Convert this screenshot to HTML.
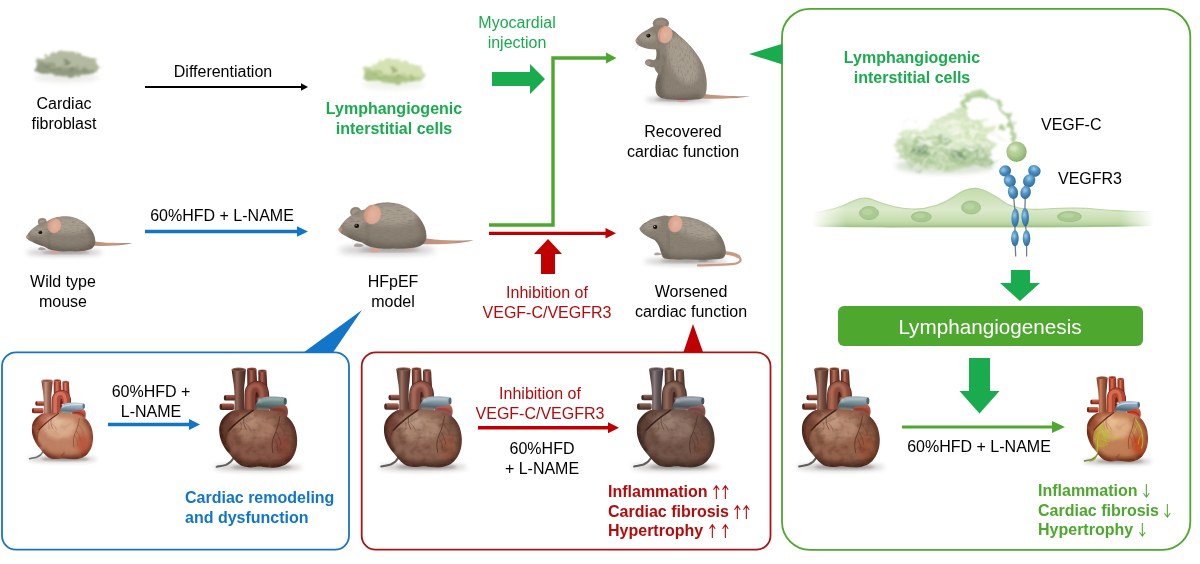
<!DOCTYPE html>
<html><head><meta charset="utf-8">
<style>
html,body{margin:0;padding:0;background:#fff;}
body{width:1200px;height:564px;position:relative;overflow:hidden;font-family:"Liberation Sans",sans-serif;}
.t{will-change:transform;position:absolute;font-size:16px;line-height:19.5px;text-align:center;color:#000;white-space:nowrap;transform:translateX(-50%);}
.l{transform:none;text-align:left;}
.g{color:#1aab4e;}
.g2{color:#4ea72e;}
.r{color:#b30c0c;}
.b{color:#1275c8;}
.bd{font-weight:bold;}
.ar{font-weight:normal;font-size:19px;line-height:10px;}
#lines,#art{position:absolute;left:0;top:0;}
.ua{display:inline-block;width:8.7px;height:14px;vertical-align:-2.4px;overflow:visible;}
</style></head><body>
<svg id="lines" width="1200" height="564" viewBox="0 0 1200 564">
<!-- boxes -->
<rect x="2" y="352.300" width="347" height="197.400" rx="14" fill="none" stroke="#1a74bf" stroke-width="1.8"/>
<rect x="361.700" y="352.300" width="408.800" height="197.400" rx="14" fill="none" stroke="#a81414" stroke-width="1.8"/>
<rect x="782" y="8.800" width="408.300" height="541" rx="28" fill="none" stroke="#4ea72e" stroke-width="1.8"/>
<!-- pointers -->
<polygon points="303.500,352.500 362,310 333,352.500" fill="#1275c8"/>
<polygon points="683.5,352 693,324 703,352" fill="#c00000"/>
<polygon points="782.5,43.800 749,54 782.5,64.500" fill="#1aab4e"/>
<!-- thin arrows -->
<line x1="145" y1="87" x2="302" y2="87" stroke="#000" stroke-width="1.8"/>
<polygon points="301,83.300 308,87 301,90.700" fill="#000"/>
<line x1="145" y1="231.500" x2="298" y2="231.500" stroke="#1275c8" stroke-width="3.4"/>
<polygon points="297,226.200 308,231.500 297,236.800" fill="#1275c8"/>
<polyline points="489,225 553,225 553,58 607,58" fill="none" stroke="#4ea72e" stroke-width="3.4"/>
<polygon points="606,52.600 616.500,58 606,63.400" fill="#4ea72e"/>
<line x1="489" y1="233.300" x2="607" y2="233.300" stroke="#c00000" stroke-width="3.2"/>
<polygon points="605.500,228 616,233.300 605.500,238.600" fill="#c00000"/>
<line x1="108" y1="424.500" x2="190" y2="424.500" stroke="#1275c8" stroke-width="3.4"/>
<polygon points="189,419 200,424.500 189,430" fill="#1275c8"/>
<line x1="478" y1="427.700" x2="609" y2="427.700" stroke="#c00000" stroke-width="3.5"/>
<polygon points="608,422.200 619,427.700 608,433.200" fill="#c00000"/>
<line x1="902" y1="427" x2="1054" y2="427" stroke="#4ea72e" stroke-width="3.2"/>
<polygon points="1052,421 1065,427 1052,433" fill="#4ea72e"/>
<!-- fat arrows -->
<polygon points="492,72 530,72 530,64 545,79 530,94 530,86 492,86" fill="#1aab4e"/>
<polygon points="541,274 541,254 534,254 548,239 562,254 555,254 555,274" fill="#c00000"/>
<polygon points="1011,270 1030,270 1030,283 1040,283 1020,301 1000,283 1011,283" fill="#1aab4e"/>
<polygon points="969,358 990,358 990,391 999.500,391 979.500,413.500 959.500,391 969,391" fill="#1aab4e"/>
<!-- banner -->
<rect x="838" y="306" width="305" height="40" rx="6" fill="#4ea72e"/>
</svg>

<svg id="art" width="1200" height="564" viewBox="0 0 1200 564"><defs>
<filter id="hearttex" x="0" y="0" width="100%" height="100%">
 <feTurbulence type="fractalNoise" baseFrequency="0.12 0.16" numOctaves="3" seed="2" result="n"/>
 <feColorMatrix in="n" type="matrix" values="0 0 0 0 0.12  0 0 0 0 0.05  0 0 0 0 0.03  0 0 0 1.5 -0.62" result="nn"/>
 <feComposite in="nn" in2="SourceGraphic" operator="in" result="tex"/>
 <feMerge><feMergeNode in="SourceGraphic"/><feMergeNode in="tex"/></feMerge>
</filter>
<filter id="hearttexL" x="0" y="0" width="100%" height="100%">
 <feTurbulence type="fractalNoise" baseFrequency="0.10 0.14" numOctaves="2" seed="6" result="n"/>
 <feColorMatrix in="n" type="matrix" values="0 0 0 0 0.45  0 0 0 0 0.15  0 0 0 0 0.08  0 0 0 0.9 -0.42" result="nn"/>
 <feComposite in="nn" in2="SourceGraphic" operator="in" result="tex"/>
 <feMerge><feMergeNode in="SourceGraphic"/><feMergeNode in="tex"/></feMerge>
</filter>
<filter id="blur1" x="-20%" y="-20%" width="140%" height="140%"><feGaussianBlur stdDeviation="0.8"/></filter>
<filter id="blur2" x="-30%" y="-30%" width="160%" height="160%"><feGaussianBlur stdDeviation="1.6"/></filter>
<filter id="blur3" x="-40%" y="-60%" width="180%" height="220%"><feGaussianBlur stdDeviation="2.6"/></filter>

<clipPath id="hc1"><path d="M33,50.4 C26,53.500 20.6,59 19.4,66.500 C18.200,76 22.200,86 29,93.500 C32.500,97.500 35.500,102 39.500,104.600 C43,107.400 50,108 56,106.800 C60,106 64,107.200 68,107.600 C76,108.200 84,106.800 89.500,101.500 C94.800,96 97.600,88 97.100,78.500 C96.600,68 92.500,60 85.500,55.200 C79,51.500 70,50 62,49.800 C52,49.600 42,49.200 33,50.400 Z"/></clipPath>
<linearGradient id="hv1" x1="0" y1="0" x2="1" y2="0">
 <stop offset="0" stop-color="#6e261c"/><stop offset="0.22" stop-color="#b04a3a"/><stop offset="0.4" stop-color="#d97a62"/><stop offset="0.62" stop-color="#b04a3a"/><stop offset="1" stop-color="#6e261c"/>
</linearGradient>
<radialGradient id="har1" cx="0.42" cy="0.35" r="0.7">
 <stop offset="0" stop-color="#d97a62"/><stop offset="0.55" stop-color="#b04a3a"/><stop offset="1" stop-color="#6e261c"/>
</radialGradient>
<linearGradient id="hs1" x1="0" y1="0" x2="1" y2="0">
 <stop offset="0" stop-color="#6a3a2e"/><stop offset="0.18" stop-color="#9a6656"/><stop offset="0.38" stop-color="#c99884"/><stop offset="0.6" stop-color="#9a6656"/><stop offset="1" stop-color="#6a3a2e"/>
</linearGradient>
<linearGradient id="hp1" x1="0.2" y1="0" x2="0.1" y2="1">
 <stop offset="0" stop-color="#b9cbd6"/><stop offset="0.2" stop-color="#8aa2b0"/><stop offset="0.34" stop-color="#5d7682"/><stop offset="0.5" stop-color="#bd8163" stop-opacity="0.75"/><stop offset="0.8" stop-color="#bd8163" stop-opacity="0"/>
</linearGradient>
<linearGradient id="hst1" x1="0" y1="0" x2="0" y2="1">
 <stop offset="0" stop-color="#d97a62"/><stop offset="0.5" stop-color="#b04a3a"/><stop offset="1" stop-color="#6e261c"/>
</linearGradient>

<clipPath id="hc2"><path d="M33,50.4 C26,53.500 20.6,59 19.4,66.500 C18.200,76 22.200,86 29,93.500 C32.500,97.500 35.500,102 39.500,104.600 C43,107.400 50,108 56,106.800 C60,106 64,107.200 68,107.600 C76,108.200 84,106.800 89.500,101.500 C94.800,96 97.600,88 97.100,78.500 C96.600,68 92.500,60 85.500,55.200 C79,51.500 70,50 62,49.800 C52,49.600 42,49.200 33,50.400 Z"/></clipPath>
<linearGradient id="hv2" x1="0" y1="0" x2="1" y2="0">
 <stop offset="0" stop-color="#46201a"/><stop offset="0.22" stop-color="#7e3e32"/><stop offset="0.4" stop-color="#ad6552"/><stop offset="0.62" stop-color="#7e3e32"/><stop offset="1" stop-color="#46201a"/>
</linearGradient>
<radialGradient id="har2" cx="0.42" cy="0.35" r="0.7">
 <stop offset="0" stop-color="#ad6552"/><stop offset="0.55" stop-color="#7e3e32"/><stop offset="1" stop-color="#46201a"/>
</radialGradient>
<linearGradient id="hs2" x1="0" y1="0" x2="1" y2="0">
 <stop offset="0" stop-color="#3e2620"/><stop offset="0.18" stop-color="#694338"/><stop offset="0.38" stop-color="#94695a"/><stop offset="0.6" stop-color="#694338"/><stop offset="1" stop-color="#3e2620"/>
</linearGradient>
<linearGradient id="hp2" x1="0.2" y1="0" x2="0.1" y2="1">
 <stop offset="0" stop-color="#8a9e9e"/><stop offset="0.2" stop-color="#66807f"/><stop offset="0.34" stop-color="#46595a"/><stop offset="0.5" stop-color="#875848" stop-opacity="0.75"/><stop offset="0.8" stop-color="#875848" stop-opacity="0"/>
</linearGradient>
<linearGradient id="hst2" x1="0" y1="0" x2="0" y2="1">
 <stop offset="0" stop-color="#ad6552"/><stop offset="0.5" stop-color="#7e3e32"/><stop offset="1" stop-color="#46201a"/>
</linearGradient>

<clipPath id="hc3"><path d="M33,50.4 C26,53.500 20.6,59 19.4,66.500 C18.200,76 22.200,86 29,93.500 C32.500,97.500 35.500,102 39.500,104.600 C43,107.400 50,108 56,106.800 C60,106 64,107.200 68,107.600 C76,108.200 84,106.800 89.500,101.500 C94.800,96 97.600,88 97.100,78.500 C96.600,68 92.500,60 85.500,55.200 C79,51.500 70,50 62,49.800 C52,49.600 42,49.200 33,50.400 Z"/></clipPath>
<linearGradient id="hv3" x1="0" y1="0" x2="1" y2="0">
 <stop offset="0" stop-color="#4a2620"/><stop offset="0.22" stop-color="#80483c"/><stop offset="0.4" stop-color="#ae7260"/><stop offset="0.62" stop-color="#80483c"/><stop offset="1" stop-color="#4a2620"/>
</linearGradient>
<radialGradient id="har3" cx="0.42" cy="0.35" r="0.7">
 <stop offset="0" stop-color="#ae7260"/><stop offset="0.55" stop-color="#80483c"/><stop offset="1" stop-color="#4a2620"/>
</radialGradient>
<linearGradient id="hs3" x1="0" y1="0" x2="1" y2="0">
 <stop offset="0" stop-color="#432a24"/><stop offset="0.18" stop-color="#6f4a3f"/><stop offset="0.38" stop-color="#9c7262"/><stop offset="0.6" stop-color="#6f4a3f"/><stop offset="1" stop-color="#432a24"/>
</linearGradient>
<linearGradient id="hp3" x1="0.2" y1="0" x2="0.1" y2="1">
 <stop offset="0" stop-color="#a3b4c0"/><stop offset="0.2" stop-color="#7c909c"/><stop offset="0.34" stop-color="#54656f"/><stop offset="0.5" stop-color="#8b6352" stop-opacity="0.75"/><stop offset="0.8" stop-color="#8b6352" stop-opacity="0"/>
</linearGradient>
<linearGradient id="hst3" x1="0" y1="0" x2="0" y2="1">
 <stop offset="0" stop-color="#ae7260"/><stop offset="0.5" stop-color="#80483c"/><stop offset="1" stop-color="#4a2620"/>
</linearGradient>

<clipPath id="hc4"><path d="M33,50.4 C26,53.500 20.6,59 19.4,66.500 C18.200,76 22.200,86 29,93.500 C32.500,97.500 35.500,102 39.500,104.600 C43,107.400 50,108 56,106.800 C60,106 64,107.200 68,107.600 C76,108.200 84,106.800 89.500,101.500 C94.800,96 97.600,88 97.100,78.500 C96.600,68 92.500,60 85.500,55.200 C79,51.500 70,50 62,49.800 C52,49.600 42,49.200 33,50.400 Z"/></clipPath>
<linearGradient id="hv4" x1="0" y1="0" x2="1" y2="0">
 <stop offset="0" stop-color="#3c2a24"/><stop offset="0.22" stop-color="#69483d"/><stop offset="0.4" stop-color="#94705f"/><stop offset="0.62" stop-color="#69483d"/><stop offset="1" stop-color="#3c2a24"/>
</linearGradient>
<radialGradient id="har4" cx="0.42" cy="0.35" r="0.7">
 <stop offset="0" stop-color="#94705f"/><stop offset="0.55" stop-color="#69483d"/><stop offset="1" stop-color="#3c2a24"/>
</radialGradient>
<linearGradient id="hs4" x1="0" y1="0" x2="1" y2="0">
 <stop offset="0" stop-color="#3a3336"/><stop offset="0.18" stop-color="#5e5254"/><stop offset="0.38" stop-color="#8a7a7e"/><stop offset="0.6" stop-color="#5e5254"/><stop offset="1" stop-color="#3a3336"/>
</linearGradient>
<linearGradient id="hp4" x1="0.2" y1="0" x2="0.1" y2="1">
 <stop offset="0" stop-color="#8f9aa4"/><stop offset="0.2" stop-color="#6c7780"/><stop offset="0.34" stop-color="#4a535a"/><stop offset="0.5" stop-color="#715549" stop-opacity="0.75"/><stop offset="0.8" stop-color="#715549" stop-opacity="0"/>
</linearGradient>
<linearGradient id="hst4" x1="0" y1="0" x2="0" y2="1">
 <stop offset="0" stop-color="#94705f"/><stop offset="0.5" stop-color="#69483d"/><stop offset="1" stop-color="#3c2a24"/>
</linearGradient>

<clipPath id="hc5"><path d="M33,50.4 C26,53.500 20.6,59 19.4,66.500 C18.200,76 22.200,86 29,93.500 C32.500,97.500 35.500,102 39.500,104.600 C43,107.400 50,108 56,106.800 C60,106 64,107.200 68,107.600 C76,108.200 84,106.800 89.500,101.500 C94.800,96 97.600,88 97.100,78.500 C96.600,68 92.500,60 85.500,55.200 C79,51.500 70,50 62,49.800 C52,49.600 42,49.200 33,50.400 Z"/></clipPath>
<linearGradient id="hv5" x1="0" y1="0" x2="1" y2="0">
 <stop offset="0" stop-color="#4c241a"/><stop offset="0.22" stop-color="#884838"/><stop offset="0.4" stop-color="#b6705a"/><stop offset="0.62" stop-color="#884838"/><stop offset="1" stop-color="#4c241a"/>
</linearGradient>
<radialGradient id="har5" cx="0.42" cy="0.35" r="0.7">
 <stop offset="0" stop-color="#b6705a"/><stop offset="0.55" stop-color="#884838"/><stop offset="1" stop-color="#4c241a"/>
</radialGradient>
<linearGradient id="hs5" x1="0" y1="0" x2="1" y2="0">
 <stop offset="0" stop-color="#472a22"/><stop offset="0.18" stop-color="#724a3e"/><stop offset="0.38" stop-color="#a07260"/><stop offset="0.6" stop-color="#724a3e"/><stop offset="1" stop-color="#472a22"/>
</linearGradient>
<linearGradient id="hp5" x1="0.2" y1="0" x2="0.1" y2="1">
 <stop offset="0" stop-color="#9fb3ba"/><stop offset="0.2" stop-color="#768c94"/><stop offset="0.34" stop-color="#50636a"/><stop offset="0.5" stop-color="#93624b" stop-opacity="0.75"/><stop offset="0.8" stop-color="#93624b" stop-opacity="0"/>
</linearGradient>
<linearGradient id="hst5" x1="0" y1="0" x2="0" y2="1">
 <stop offset="0" stop-color="#b6705a"/><stop offset="0.5" stop-color="#884838"/><stop offset="1" stop-color="#4c241a"/>
</linearGradient>

<clipPath id="hc6"><path d="M33,50.4 C26,53.500 20.6,59 19.4,66.500 C18.200,76 22.200,86 29,93.500 C32.500,97.500 35.500,102 39.500,104.600 C43,107.400 50,108 56,106.800 C60,106 64,107.200 68,107.600 C76,108.200 84,106.800 89.500,101.500 C94.800,96 97.600,88 97.100,78.500 C96.600,68 92.500,60 85.500,55.200 C79,51.500 70,50 62,49.800 C52,49.600 42,49.200 33,50.400 Z"/></clipPath>
<linearGradient id="hv6" x1="0" y1="0" x2="1" y2="0">
 <stop offset="0" stop-color="#6c2416"/><stop offset="0.22" stop-color="#b04830"/><stop offset="0.4" stop-color="#e07052"/><stop offset="0.62" stop-color="#b04830"/><stop offset="1" stop-color="#6c2416"/>
</linearGradient>
<radialGradient id="har6" cx="0.42" cy="0.35" r="0.7">
 <stop offset="0" stop-color="#e07052"/><stop offset="0.55" stop-color="#b04830"/><stop offset="1" stop-color="#6c2416"/>
</radialGradient>
<linearGradient id="hs6" x1="0" y1="0" x2="1" y2="0">
 <stop offset="0" stop-color="#683624"/><stop offset="0.18" stop-color="#97583e"/><stop offset="0.38" stop-color="#cc8460"/><stop offset="0.6" stop-color="#97583e"/><stop offset="1" stop-color="#683624"/>
</linearGradient>
<linearGradient id="hp6" x1="0.2" y1="0" x2="0.1" y2="1">
 <stop offset="0" stop-color="#a9bfd0"/><stop offset="0.2" stop-color="#7391a6"/><stop offset="0.34" stop-color="#4c6678"/><stop offset="0.5" stop-color="#c07f55" stop-opacity="0.75"/><stop offset="0.8" stop-color="#c07f55" stop-opacity="0"/>
</linearGradient>
<linearGradient id="hst6" x1="0" y1="0" x2="0" y2="1">
 <stop offset="0" stop-color="#e07052"/><stop offset="0.5" stop-color="#b04830"/><stop offset="1" stop-color="#6c2416"/>
</linearGradient>

<radialGradient id="fur" cx="0.5" cy="0.3" r="0.75">
 <stop offset="0" stop-color="#aba193"/><stop offset="0.6" stop-color="#8a8073"/><stop offset="1" stop-color="#5a5248"/>
</radialGradient>
<radialGradient id="earg" cx="0.55" cy="0.5" r="0.6">
 <stop offset="0" stop-color="#e3b49e"/><stop offset="0.7" stop-color="#dba892"/><stop offset="1" stop-color="#b98270"/>
</radialGradient>
<linearGradient id="tailg" x1="0" y1="0" x2="1" y2="0">
 <stop offset="0" stop-color="#b88e7c"/><stop offset="0.5" stop-color="#c99a82"/><stop offset="1" stop-color="#a58a78"/>
</linearGradient>
<filter id="furtex" x="-5%" y="-5%" width="110%" height="110%">
 <feTurbulence type="fractalNoise" baseFrequency="0.9 0.25" numOctaves="2" seed="3" result="n"/>
 <feColorMatrix in="n" type="matrix" values="0 0 0 0 0.2  0 0 0 0 0.18  0 0 0 0 0.15  0 0 0 1.6 -0.75" result="nn"/>
 <feComposite in="nn" in2="SourceGraphic" operator="in" result="tex"/>
 <feMerge><feMergeNode in="SourceGraphic"/><feMergeNode in="tex"/></feMerge>
</filter>
<filter id="furtexh" x="-5%" y="-5%" width="110%" height="110%">
 <feTurbulence type="fractalNoise" baseFrequency="0.22 0.9" numOctaves="2" seed="5" result="n"/>
 <feColorMatrix in="n" type="matrix" values="0 0 0 0 0.2  0 0 0 0 0.18  0 0 0 0 0.15  0 0 0 1.6 -0.75" result="nn"/>
 <feComposite in="nn" in2="SourceGraphic" operator="in" result="tex"/>
 <feMerge><feMergeNode in="SourceGraphic"/><feMergeNode in="tex"/></feMerge>
</filter>
<clipPath id="mc1"><path d="M0.2,26.5 C2,22 6,17.500 11,14.500 C14,12.500 17,11 20.500,10.500 C25,7 32,4.800 40,5 C50,5.300 58,10 63.500,17 C67,21.500 69,26.500 69,31 C69.200,35 67,38 63.500,39.500 C58,41.500 50,41.500 43,41.200 C38,41.500 33,41.500 28.500,40.500 C24,40 21,38.500 18.500,36.500 C14,35.500 9.500,33.500 6,31.500 C3.500,30.500 1,29 0.200,26.500 Z"/></clipPath><clipPath id="mc2"><path d="M0.2,26.5 C2,22 6,17.500 11,14.500 C14,12.500 17,11 20.500,10.500 C25,7 32,4.800 40,5 C50,5.300 58,10 63.500,17 C67,21.500 69,26.500 69,31 C69.200,35 67,38 63.500,39.500 C58,41.500 50,41.500 43,41.200 C38,41.500 33,41.500 28.500,40.500 C24,40 21,38.500 18.500,36.500 C14,35.500 9.500,33.500 6,31.500 C3.500,30.500 1,29 0.200,26.500 Z"/></clipPath><clipPath id="mc4"><path d="M19.9,28.6 C20.5,26 23,23.500 26.6,21.900 C31,19 36,16.800 41,16.300 C43,15.500 46,15.300 49,16.300 C56,15.800 66,16.200 74.5,18.600 C84,21.200 93,26.600 98.500,33 C103,38.500 105.500,45 105.800,50.500 C106,55 104.500,58 101,58.800 C92,60.300 80,60 68,59.500 C60,59.800 50,59.800 44.500,58.500 C42,57.500 41.500,54 40.500,51 C39.500,46.500 37.500,42.500 34.600,39.900 C30,37.800 25,35.800 22.600,33.200 C20.800,31.800 19.600,30.300 19.900,28.600 Z"/></clipPath><clipPath id="mc3"><path d="M0,30.500 C1,27 5,23 10,20.500 C13,19 17,15.500 21,14.500 C25,14 29,15 32,17.500 C36,18 40,21 44,25 C53,32 62,42 67.500,53 C71.500,62 73,72 72,80 C71.500,85 69.500,89 65,90 C55,91 42,91 32,90 C25,89.500 21.500,87 20.500,82 C19.500,76 20.500,70 23,64 C21,62 19.500,60 19,57.500 C15,57.500 11,56 10,53 C10,51 12,50 14.500,50.500 C17,50.800 19,50.500 20.500,49 C21.500,45 21.500,42 20.500,39.500 C15,39.500 9,38.500 5,36.500 C2,35 0,33 0,30.500 Z"/></clipPath>
<filter id="wisp" x="-20%" y="-30%" width="140%" height="160%">
 <feTurbulence type="fractalNoise" baseFrequency="0.09 0.16" numOctaves="3" seed="11" result="n"/>
 <feDisplacementMap in="SourceGraphic" in2="n" scale="9" xChannelSelector="R" yChannelSelector="G" result="d"/>
 <feGaussianBlur in="d" stdDeviation="0.95"/>
</filter>
<filter id="wisp2" x="-20%" y="-30%" width="140%" height="160%">
 <feTurbulence type="fractalNoise" baseFrequency="0.06 0.09" numOctaves="3" seed="4" result="n"/>
 <feDisplacementMap in="SourceGraphic" in2="n" scale="16" xChannelSelector="R" yChannelSelector="G" result="d"/>
 <feGaussianBlur in="d" stdDeviation="0.8"/>
</filter>
<filter id="celltex" x="-5%" y="-5%" width="110%" height="110%">
 <feTurbulence type="fractalNoise" baseFrequency="0.35 0.55" numOctaves="3" seed="8" result="n"/>
 <feColorMatrix in="n" type="matrix" values="0 0 0 0 1  0 0 0 0 1  0 0 0 0 0.9  0 0 0 2.2 -1.0" result="nn"/>
 <feComposite in="nn" in2="SourceGraphic" operator="in" result="tex"/>
 <feMerge><feMergeNode in="SourceGraphic"/><feMergeNode in="tex"/></feMerge>
</filter>
<radialGradient id="ballg" cx="0.42" cy="0.38" r="0.65">
 <stop offset="0" stop-color="#c9dcae"/><stop offset="0.6" stop-color="#a8c78a"/><stop offset="1" stop-color="#86ad66"/>
</radialGradient>
<linearGradient id="endoH" x1="0" y1="0" x2="1" y2="0">
 <stop offset="0" stop-color="#fff" stop-opacity="0"/><stop offset="0.1" stop-color="#fff" stop-opacity="1"/><stop offset="0.9" stop-color="#fff" stop-opacity="1"/><stop offset="1" stop-color="#fff" stop-opacity="0"/>
</linearGradient>
<mask id="endoM" maskUnits="userSpaceOnUse" x="800" y="170" width="370" height="70"><rect x="812" y="170" width="342" height="70" fill="url(#endoH)"/></mask>
<linearGradient id="endoV" x1="0" y1="0" x2="0" y2="1">
 <stop offset="0" stop-color="#c4dbab"/><stop offset="0.55" stop-color="#dbe9cb"/><stop offset="0.85" stop-color="#c6dcae"/><stop offset="1" stop-color="#a6c888"/>
</linearGradient>
<radialGradient id="blob" cx="0.4" cy="0.35" r="0.7">
 <stop offset="0" stop-color="#7fb6da"/><stop offset="0.5" stop-color="#488dbe"/><stop offset="1" stop-color="#2b6694"/>
</radialGradient>
</defs><g transform="translate(16.6,373.2) scale(0.787,0.8)"><ellipse cx="58" cy="107.500" rx="44" ry="3.600" fill="#4a403a" opacity="0.30" filter="url(#blur3)"/><ellipse cx="62" cy="107.200" rx="30" ry="2.200" fill="#2a201a" opacity="0.35" filter="url(#blur2)"/><rect x="24.5" y="35" width="12" height="5.6" rx="1.6" fill="url(#hst1)"/><rect x="20.2" y="43.6" width="14" height="6.4" rx="1.8" fill="url(#hst1)"/><ellipse cx="25" cy="37.8" rx="1.2" ry="2.6" fill="#6e261c"/><ellipse cx="20.8" cy="46.8" rx="1.3" ry="3.0" fill="#6e261c"/><path d="M58.3,10.8 L66.4,10.8 L67.4,29 L58.5,29 Z" fill="url(#hv1)"/><ellipse cx="62.35" cy="10.8" rx="4.05" ry="1.4" fill="#d97a62"/><ellipse cx="62.35" cy="10.95" rx="3.1" ry="0.9" fill="#8f3a2c"/><path d="M47.1,9 L56.4,9 L57.4,29 L47.4,29 Z" fill="url(#hv1)"/><ellipse cx="51.75" cy="9" rx="4.65" ry="1.5" fill="#d97a62"/><ellipse cx="51.75" cy="9.2" rx="3.7" ry="1.0" fill="#8f3a2c"/><path d="M52,31 L62,31 L62,44 L52,44 Z" fill="#5e2418"/><path d="M50.4,56 L50.4,34.500 C50.4,27.600 55.800,26 59.300,27.300 C62.800,28.600 63.500,32.500 63.400,40" fill="none" stroke="#6e261c" stroke-width="11.8"/><path d="M50.4,56 L50.4,34.500 C50.4,27.600 55.800,26 59.300,27.300 C62.800,28.600 63.500,32.500 63.400,40" fill="none" stroke="#b04a3a" stroke-width="10.6"/><path d="M50.4,56 L50.4,34.500 C50.4,27.600 55.800,26 59.300,27.300 C62.800,28.600 63.500,32.500 63.400,40" fill="none" stroke="#d97a62" stroke-width="4.2" opacity="0.85" filter="url(#blur1)" transform="translate(-1.4,-1.6)"/><path d="M55.800,54 L55.900,40 C56,36.800 56.600,35 57.300,34.800 C58,35 58.300,37 58.300,40" fill="none" stroke="#6e261c" stroke-width="2.2" opacity="0.75" filter="url(#blur1)"/><path d="M68.200,31 C68.800,34 68.700,37 68.200,40" fill="none" stroke="#6e261c" stroke-width="2" opacity="0.6" filter="url(#blur1)"/><path d="M31.6,9.4 L45.9,9.4 L44.800,22 C43.600,30 43.800,40 45.200,54 L34.4,54 C35,40 34.600,28 33,20 Z" fill="url(#hs1)"/><ellipse cx="38.75" cy="9.4" rx="7.15" ry="1.8" fill="#c99884"/><ellipse cx="38.75" cy="9.6" rx="6" ry="1.2" fill="#8a5142"/><path d="M69,47 C73,42.300 83.500,42.300 86.500,46.500 C89,50 88.200,56.500 85,60 L71,55 Z" fill="#b4503e"/><path d="M71.500,50.200 C77,48.300 82.500,49.800 86.200,53.800" fill="none" stroke="#7a2c22" stroke-width="1.300" opacity="0.75" filter="url(#blur1)"/><path d="M71,46.500 C76,44.200 82,44.600 86,47.600" fill="none" stroke="#d98470" stroke-width="1.300" opacity="0.8" filter="url(#blur1)"/><path d="M73,54.300 C78,53.200 82,54.500 85.300,57.800" fill="none" stroke="#d98470" stroke-width="1" opacity="0.5" filter="url(#blur1)"/><path d="M35.500,86 C36.500,96 32,102.500 26,104.800 C22,106.200 19,106.200 16.500,106.800" fill="none" stroke="#6b6a6a" stroke-width="1.9" stroke-linecap="round"/><g clip-path="url(#hc1)"><g filter="url(#hearttexL)"><rect x="15" y="44" width="88" height="68" fill="#bd8163"/><path d="M54.500,48 C45,54.500 35,62 29,70.500 C26,76 25,84 26,92 L10,95 L10,44 Z" fill="#9c4a36"/><path d="M33,48 C25,53 19,60 19,68 C19,78 23,86 29,93" fill="none" stroke="#5e2418" stroke-width="6.500" opacity="0.8" filter="url(#blur2)"/><ellipse cx="36" cy="55" rx="8" ry="5" fill="#c9826a" opacity="0.55" filter="url(#blur2)" transform="rotate(-38 36 55)"/><ellipse cx="55" cy="67" rx="21" ry="15" fill="#ddb092" opacity="0.85" filter="url(#blur3)"/><ellipse cx="49" cy="61" rx="10" ry="6" fill="#ecc9ad" opacity="0.55" filter="url(#blur3)"/><path d="M86,55 C93,60 97.500,69 97.500,79 C97.500,90 94,98 88,103" fill="none" stroke="#7d3524" stroke-width="9" opacity="0.9" filter="url(#blur3)"/><path d="M30,97 C40,108 50,108 58,107 C68,108.500 82,108.500 91,100" fill="none" stroke="#5e2418" stroke-width="9" opacity="0.9" filter="url(#blur3)"/><ellipse cx="84" cy="88" rx="8" ry="12" fill="#b8452c" opacity="0.65" filter="url(#blur3)"/><path d="M56,108 C56.500,104 58,101 61,99" fill="none" stroke="#7d3524" stroke-width="1.500" opacity="0.6" filter="url(#blur1)"/><path d="M54.500,49.400 C45.500,55.500 35.500,62.500 28.800,70.500" fill="none" stroke="#5a2219" stroke-width="1.700" stroke-linecap="round" opacity="0.9"/><path d="M55.500,50.800 C46.500,57 37,63.500 30.500,71" fill="none" stroke="#ddb092" stroke-width="1" stroke-linecap="round" opacity="0.35"/><path d="M28.800,70.500 C26.400,76 25.600,84 27.500,91.500" fill="none" stroke="#5a2219" stroke-width="1.600" opacity="0.5" filter="url(#blur1)"/><path d="M80,56 C78.500,64 77,70 74,76 C72,81 71.500,86 73,93" fill="none" stroke="#7a3a2a" stroke-width="0.9" opacity="0.85"/><path d="M76,72 C79,76 80.500,80 81,85" fill="none" stroke="#7a3a2a" stroke-width="0.6" opacity="0.75"/><path d="M74,78 C77.500,82 78,87 77.500,91" fill="none" stroke="#7a3a2a" stroke-width="0.55" opacity="0.75"/><path d="M78,64 C82,67 84,71 85,76" fill="none" stroke="#7a3a2a" stroke-width="0.55" opacity="0.65"/><path d="M44,57 C43,62 44,66 46.500,70" fill="none" stroke="#7a3a2a" stroke-width="0.7" opacity="0.75"/><path d="M40,61 C41.500,64 41.500,67 41,70" fill="none" stroke="#7a3a2a" stroke-width="0.5" opacity="0.65"/><path d="M45,63 C48,65 50,68 50.500,71" fill="none" stroke="#7a3a2a" stroke-width="0.5" opacity="0.65"/></g></g><path d="M53.500,60 C53,50 55,40.500 62.500,37.600 C69,36 78,36.600 84.800,37.600 C86.700,39 86.700,43.600 84.900,45 C79,46.600 73.500,46.400 70,48.500 C68,50.500 69.500,55 71,62 C65,66 57,66 52,62 C52,61 53,60.500 53.500,60 Z" fill="url(#hp1)"/><ellipse cx="85.300" cy="41.300" rx="1.500" ry="3.500" fill="#5d7682"/><path d="M58.500,42.500 C61.500,39.300 68,38.600 82,39.200" fill="none" stroke="#e2edf2" stroke-width="1.400" opacity="0.8" stroke-linecap="round" filter="url(#blur1)"/><ellipse cx="58.600" cy="39.400" rx="1.500" ry="1.200" fill="#fff" opacity="0.75" filter="url(#blur1)"/></g><g transform="translate(200,360) scale(1.0)"><ellipse cx="58" cy="107.500" rx="44" ry="3.600" fill="#4a403a" opacity="0.30" filter="url(#blur3)"/><ellipse cx="62" cy="107.200" rx="30" ry="2.200" fill="#2a201a" opacity="0.35" filter="url(#blur2)"/><rect x="24.5" y="35" width="12" height="5.6" rx="1.6" fill="url(#hst2)"/><rect x="20.2" y="43.6" width="14" height="6.4" rx="1.8" fill="url(#hst2)"/><ellipse cx="25" cy="37.8" rx="1.2" ry="2.6" fill="#46201a"/><ellipse cx="20.8" cy="46.8" rx="1.3" ry="3.0" fill="#46201a"/><path d="M58.3,10.8 L66.4,10.8 L67.4,29 L58.5,29 Z" fill="url(#hv2)"/><ellipse cx="62.35" cy="10.8" rx="4.05" ry="1.4" fill="#ad6552"/><ellipse cx="62.35" cy="10.95" rx="3.1" ry="0.9" fill="#6b3328"/><path d="M47.1,9 L56.4,9 L57.4,29 L47.4,29 Z" fill="url(#hv2)"/><ellipse cx="51.75" cy="9" rx="4.65" ry="1.5" fill="#ad6552"/><ellipse cx="51.75" cy="9.2" rx="3.7" ry="1.0" fill="#6b3328"/><path d="M52,31 L62,31 L62,44 L52,44 Z" fill="#34190f"/><path d="M50.4,56 L50.4,34.500 C50.4,27.600 55.800,26 59.300,27.300 C62.800,28.600 63.500,32.500 63.400,40" fill="none" stroke="#46201a" stroke-width="11.8"/><path d="M50.4,56 L50.4,34.500 C50.4,27.600 55.800,26 59.300,27.300 C62.800,28.600 63.500,32.500 63.400,40" fill="none" stroke="#7e3e32" stroke-width="10.6"/><path d="M50.4,56 L50.4,34.500 C50.4,27.600 55.800,26 59.300,27.300 C62.800,28.600 63.500,32.500 63.400,40" fill="none" stroke="#ad6552" stroke-width="4.2" opacity="0.85" filter="url(#blur1)" transform="translate(-1.4,-1.6)"/><path d="M55.800,54 L55.900,40 C56,36.800 56.600,35 57.300,34.800 C58,35 58.300,37 58.300,40" fill="none" stroke="#46201a" stroke-width="2.2" opacity="0.75" filter="url(#blur1)"/><path d="M68.200,31 C68.800,34 68.700,37 68.200,40" fill="none" stroke="#46201a" stroke-width="2" opacity="0.6" filter="url(#blur1)"/><path d="M31.6,9.4 L45.9,9.4 L44.800,22 C43.600,30 43.800,40 45.200,54 L34.4,54 C35,40 34.600,28 33,20 Z" fill="url(#hs2)"/><ellipse cx="38.75" cy="9.4" rx="7.15" ry="1.8" fill="#94695a"/><ellipse cx="38.75" cy="9.6" rx="6" ry="1.2" fill="#5d3a31"/><path d="M69,47 C73,42.300 83.500,42.300 86.500,46.500 C89,50 88.200,56.500 85,60 L71,55 Z" fill="#8a4a3c"/><path d="M71.500,50.200 C77,48.300 82.500,49.800 86.200,53.800" fill="none" stroke="#4f221b" stroke-width="1.300" opacity="0.75" filter="url(#blur1)"/><path d="M71,46.500 C76,44.200 82,44.600 86,47.600" fill="none" stroke="#ad6a58" stroke-width="1.300" opacity="0.8" filter="url(#blur1)"/><path d="M73,54.300 C78,53.200 82,54.500 85.300,57.800" fill="none" stroke="#ad6a58" stroke-width="1" opacity="0.5" filter="url(#blur1)"/><path d="M35.500,86 C36.500,96 32,102.500 26,104.800 C22,106.200 19,106.200 16.500,106.800" fill="none" stroke="#5f5c5c" stroke-width="1.9" stroke-linecap="round"/><g clip-path="url(#hc2)"><g filter="url(#hearttex)"><rect x="15" y="44" width="88" height="68" fill="#875848"/><path d="M54.500,48 C45,54.500 35,62 29,70.500 C26,76 25,84 26,92 L10,95 L10,44 Z" fill="#6a3c30"/><path d="M33,48 C25,53 19,60 19,68 C19,78 23,86 29,93" fill="none" stroke="#34190f" stroke-width="6.500" opacity="0.8" filter="url(#blur2)"/><ellipse cx="36" cy="55" rx="8" ry="5" fill="#8a5648" opacity="0.55" filter="url(#blur2)" transform="rotate(-38 36 55)"/><ellipse cx="55" cy="67" rx="21" ry="15" fill="#ad8069" opacity="0.85" filter="url(#blur3)"/><ellipse cx="49" cy="61" rx="10" ry="6" fill="#c09a85" opacity="0.55" filter="url(#blur3)"/><path d="M86,55 C93,60 97.500,69 97.500,79 C97.500,90 94,98 88,103" fill="none" stroke="#4c2a22" stroke-width="9" opacity="0.9" filter="url(#blur3)"/><path d="M30,97 C40,108 50,108 58,107 C68,108.500 82,108.500 91,100" fill="none" stroke="#34190f" stroke-width="9" opacity="0.9" filter="url(#blur3)"/><ellipse cx="84" cy="88" rx="8" ry="12" fill="#8a3a2a" opacity="0.5" filter="url(#blur3)"/><path d="M56,108 C56.500,104 58,101 61,99" fill="none" stroke="#4c2a22" stroke-width="1.500" opacity="0.6" filter="url(#blur1)"/><path d="M54.500,49.400 C45.500,55.500 35.500,62.500 28.800,70.500" fill="none" stroke="#33160f" stroke-width="1.700" stroke-linecap="round" opacity="0.9"/><path d="M55.500,50.800 C46.500,57 37,63.500 30.500,71" fill="none" stroke="#ad8069" stroke-width="1" stroke-linecap="round" opacity="0.35"/><path d="M28.800,70.500 C26.400,76 25.600,84 27.500,91.500" fill="none" stroke="#33160f" stroke-width="1.600" opacity="0.5" filter="url(#blur1)"/><path d="M80,56 C78.500,64 77,70 74,76 C72,81 71.500,86 73,93" fill="none" stroke="#4e2a20" stroke-width="0.9" opacity="0.85"/><path d="M76,72 C79,76 80.500,80 81,85" fill="none" stroke="#4e2a20" stroke-width="0.6" opacity="0.75"/><path d="M74,78 C77.500,82 78,87 77.500,91" fill="none" stroke="#4e2a20" stroke-width="0.55" opacity="0.75"/><path d="M78,64 C82,67 84,71 85,76" fill="none" stroke="#4e2a20" stroke-width="0.55" opacity="0.65"/><path d="M44,57 C43,62 44,66 46.500,70" fill="none" stroke="#4e2a20" stroke-width="0.7" opacity="0.75"/><path d="M40,61 C41.500,64 41.500,67 41,70" fill="none" stroke="#4e2a20" stroke-width="0.5" opacity="0.65"/><path d="M45,63 C48,65 50,68 50.500,71" fill="none" stroke="#4e2a20" stroke-width="0.5" opacity="0.65"/></g></g><path d="M53.500,60 C53,50 55,40.500 62.500,37.600 C69,36 78,36.600 84.800,37.600 C86.700,39 86.700,43.600 84.900,45 C79,46.600 73.500,46.400 70,48.500 C68,50.500 69.500,55 71,62 C65,66 57,66 52,62 C52,61 53,60.500 53.500,60 Z" fill="url(#hp2)"/><ellipse cx="85.300" cy="41.300" rx="1.500" ry="3.500" fill="#46595a"/><path d="M58.500,42.500 C61.500,39.300 68,38.600 82,39.200" fill="none" stroke="#b4c6c4" stroke-width="1.400" opacity="0.8" stroke-linecap="round" filter="url(#blur1)"/><ellipse cx="58.600" cy="39.400" rx="1.500" ry="1.200" fill="#fff" opacity="0.75" filter="url(#blur1)"/></g><g transform="translate(364.7,359.7) scale(1.0)"><ellipse cx="58" cy="107.500" rx="44" ry="3.600" fill="#4a403a" opacity="0.30" filter="url(#blur3)"/><ellipse cx="62" cy="107.200" rx="30" ry="2.200" fill="#2a201a" opacity="0.35" filter="url(#blur2)"/><rect x="24.5" y="35" width="12" height="5.6" rx="1.6" fill="url(#hst3)"/><rect x="20.2" y="43.6" width="14" height="6.4" rx="1.8" fill="url(#hst3)"/><ellipse cx="25" cy="37.8" rx="1.2" ry="2.6" fill="#4a2620"/><ellipse cx="20.8" cy="46.8" rx="1.3" ry="3.0" fill="#4a2620"/><path d="M58.3,10.8 L66.4,10.8 L67.4,29 L58.5,29 Z" fill="url(#hv3)"/><ellipse cx="62.35" cy="10.8" rx="4.05" ry="1.4" fill="#ae7260"/><ellipse cx="62.35" cy="10.95" rx="3.1" ry="0.9" fill="#6f3b30"/><path d="M47.1,9 L56.4,9 L57.4,29 L47.4,29 Z" fill="url(#hv3)"/><ellipse cx="51.75" cy="9" rx="4.65" ry="1.5" fill="#ae7260"/><ellipse cx="51.75" cy="9.2" rx="3.7" ry="1.0" fill="#6f3b30"/><path d="M52,31 L62,31 L62,44 L52,44 Z" fill="#3a1e18"/><path d="M50.4,56 L50.4,34.500 C50.4,27.600 55.800,26 59.300,27.300 C62.800,28.600 63.500,32.500 63.400,40" fill="none" stroke="#4a2620" stroke-width="11.8"/><path d="M50.4,56 L50.4,34.500 C50.4,27.600 55.800,26 59.300,27.300 C62.800,28.600 63.500,32.500 63.400,40" fill="none" stroke="#80483c" stroke-width="10.6"/><path d="M50.4,56 L50.4,34.500 C50.4,27.600 55.800,26 59.300,27.300 C62.800,28.600 63.500,32.500 63.400,40" fill="none" stroke="#ae7260" stroke-width="4.2" opacity="0.85" filter="url(#blur1)" transform="translate(-1.4,-1.6)"/><path d="M55.800,54 L55.900,40 C56,36.800 56.600,35 57.300,34.800 C58,35 58.300,37 58.300,40" fill="none" stroke="#4a2620" stroke-width="2.2" opacity="0.75" filter="url(#blur1)"/><path d="M68.200,31 C68.800,34 68.700,37 68.200,40" fill="none" stroke="#4a2620" stroke-width="2" opacity="0.6" filter="url(#blur1)"/><path d="M31.6,9.4 L45.9,9.4 L44.800,22 C43.600,30 43.800,40 45.200,54 L34.4,54 C35,40 34.600,28 33,20 Z" fill="url(#hs3)"/><ellipse cx="38.75" cy="9.4" rx="7.15" ry="1.8" fill="#9c7262"/><ellipse cx="38.75" cy="9.6" rx="6" ry="1.2" fill="#664238"/><path d="M69,47 C73,42.300 83.500,42.300 86.500,46.500 C89,50 88.200,56.500 85,60 L71,55 Z" fill="#a75a54"/><path d="M71.500,50.200 C77,48.300 82.500,49.800 86.200,53.800" fill="none" stroke="#5a2a25" stroke-width="1.300" opacity="0.75" filter="url(#blur1)"/><path d="M71,46.500 C76,44.200 82,44.600 86,47.600" fill="none" stroke="#c98078" stroke-width="1.300" opacity="0.8" filter="url(#blur1)"/><path d="M73,54.300 C78,53.200 82,54.500 85.300,57.800" fill="none" stroke="#c98078" stroke-width="1" opacity="0.5" filter="url(#blur1)"/><path d="M35.500,86 C36.500,96 32,102.500 26,104.800 C22,106.200 19,106.200 16.500,106.800" fill="none" stroke="#5f5c5c" stroke-width="1.9" stroke-linecap="round"/><g clip-path="url(#hc3)"><g filter="url(#hearttex)"><rect x="15" y="44" width="88" height="68" fill="#8b6352"/><path d="M54.500,48 C45,54.500 35,62 29,70.500 C26,76 25,84 26,92 L10,95 L10,44 Z" fill="#74463a"/><path d="M33,48 C25,53 19,60 19,68 C19,78 23,86 29,93" fill="none" stroke="#3a1e18" stroke-width="6.500" opacity="0.8" filter="url(#blur2)"/><ellipse cx="36" cy="55" rx="8" ry="5" fill="#946252" opacity="0.55" filter="url(#blur2)" transform="rotate(-38 36 55)"/><ellipse cx="55" cy="67" rx="21" ry="15" fill="#b08c76" opacity="0.85" filter="url(#blur3)"/><ellipse cx="49" cy="61" rx="10" ry="6" fill="#c4a490" opacity="0.55" filter="url(#blur3)"/><path d="M86,55 C93,60 97.500,69 97.500,79 C97.500,90 94,98 88,103" fill="none" stroke="#52302a" stroke-width="9" opacity="0.9" filter="url(#blur3)"/><path d="M30,97 C40,108 50,108 58,107 C68,108.500 82,108.500 91,100" fill="none" stroke="#3a1e18" stroke-width="9" opacity="0.9" filter="url(#blur3)"/><ellipse cx="84" cy="88" rx="8" ry="12" fill="#9a5034" opacity="0.5" filter="url(#blur3)"/><path d="M56,108 C56.500,104 58,101 61,99" fill="none" stroke="#52302a" stroke-width="1.500" opacity="0.6" filter="url(#blur1)"/><path d="M54.500,49.400 C45.500,55.500 35.500,62.500 28.800,70.500" fill="none" stroke="#3a1c16" stroke-width="1.700" stroke-linecap="round" opacity="0.9"/><path d="M55.500,50.800 C46.500,57 37,63.500 30.500,71" fill="none" stroke="#b08c76" stroke-width="1" stroke-linecap="round" opacity="0.35"/><path d="M28.800,70.500 C26.400,76 25.600,84 27.500,91.500" fill="none" stroke="#3a1c16" stroke-width="1.600" opacity="0.5" filter="url(#blur1)"/><path d="M80,56 C78.500,64 77,70 74,76 C72,81 71.500,86 73,93" fill="none" stroke="#55301f" stroke-width="0.9" opacity="0.85"/><path d="M76,72 C79,76 80.500,80 81,85" fill="none" stroke="#55301f" stroke-width="0.6" opacity="0.75"/><path d="M74,78 C77.500,82 78,87 77.500,91" fill="none" stroke="#55301f" stroke-width="0.55" opacity="0.75"/><path d="M78,64 C82,67 84,71 85,76" fill="none" stroke="#55301f" stroke-width="0.55" opacity="0.65"/><path d="M44,57 C43,62 44,66 46.500,70" fill="none" stroke="#55301f" stroke-width="0.7" opacity="0.75"/><path d="M40,61 C41.500,64 41.500,67 41,70" fill="none" stroke="#55301f" stroke-width="0.5" opacity="0.65"/><path d="M45,63 C48,65 50,68 50.500,71" fill="none" stroke="#55301f" stroke-width="0.5" opacity="0.65"/></g></g><path d="M53.500,60 C53,50 55,40.500 62.500,37.600 C69,36 78,36.600 84.800,37.600 C86.700,39 86.700,43.600 84.900,45 C79,46.600 73.500,46.400 70,48.500 C68,50.500 69.500,55 71,62 C65,66 57,66 52,62 C52,61 53,60.500 53.500,60 Z" fill="url(#hp3)"/><ellipse cx="85.300" cy="41.300" rx="1.500" ry="3.500" fill="#54656f"/><path d="M58.500,42.500 C61.500,39.300 68,38.600 82,39.200" fill="none" stroke="#d2dfe6" stroke-width="1.400" opacity="0.8" stroke-linecap="round" filter="url(#blur1)"/><ellipse cx="58.600" cy="39.400" rx="1.500" ry="1.200" fill="#fff" opacity="0.75" filter="url(#blur1)"/></g><g transform="translate(617.5,359.7) scale(1.0)"><ellipse cx="58" cy="107.500" rx="44" ry="3.600" fill="#4a403a" opacity="0.30" filter="url(#blur3)"/><ellipse cx="62" cy="107.200" rx="30" ry="2.200" fill="#2a201a" opacity="0.35" filter="url(#blur2)"/><rect x="24.5" y="35" width="12" height="5.6" rx="1.6" fill="url(#hst4)"/><rect x="20.2" y="43.6" width="14" height="6.4" rx="1.8" fill="url(#hst4)"/><ellipse cx="25" cy="37.8" rx="1.2" ry="2.6" fill="#3c2a24"/><ellipse cx="20.8" cy="46.8" rx="1.3" ry="3.0" fill="#3c2a24"/><path d="M58.3,10.8 L66.4,10.8 L67.4,29 L58.5,29 Z" fill="url(#hv4)"/><ellipse cx="62.35" cy="10.8" rx="4.05" ry="1.4" fill="#94705f"/><ellipse cx="62.35" cy="10.95" rx="3.1" ry="0.9" fill="#5a3d34"/><path d="M47.1,9 L56.4,9 L57.4,29 L47.4,29 Z" fill="url(#hv4)"/><ellipse cx="51.75" cy="9" rx="4.65" ry="1.5" fill="#94705f"/><ellipse cx="51.75" cy="9.2" rx="3.7" ry="1.0" fill="#5a3d34"/><path d="M52,31 L62,31 L62,44 L52,44 Z" fill="#2e201c"/><path d="M50.4,56 L50.4,34.500 C50.4,27.600 55.800,26 59.300,27.300 C62.800,28.600 63.500,32.500 63.400,40" fill="none" stroke="#3c2a24" stroke-width="11.8"/><path d="M50.4,56 L50.4,34.500 C50.4,27.600 55.800,26 59.300,27.300 C62.800,28.600 63.500,32.500 63.400,40" fill="none" stroke="#69483d" stroke-width="10.6"/><path d="M50.4,56 L50.4,34.500 C50.4,27.600 55.800,26 59.300,27.300 C62.800,28.600 63.500,32.500 63.400,40" fill="none" stroke="#94705f" stroke-width="4.2" opacity="0.85" filter="url(#blur1)" transform="translate(-1.4,-1.6)"/><path d="M55.800,54 L55.900,40 C56,36.800 56.600,35 57.300,34.800 C58,35 58.300,37 58.300,40" fill="none" stroke="#3c2a24" stroke-width="2.2" opacity="0.75" filter="url(#blur1)"/><path d="M68.200,31 C68.800,34 68.700,37 68.200,40" fill="none" stroke="#3c2a24" stroke-width="2" opacity="0.6" filter="url(#blur1)"/><path d="M31.6,9.4 L45.9,9.4 L44.800,22 C43.600,30 43.800,40 45.200,54 L34.4,54 C35,40 34.600,28 33,20 Z" fill="url(#hs4)"/><ellipse cx="38.75" cy="9.4" rx="7.15" ry="1.8" fill="#8a7a7e"/><ellipse cx="38.75" cy="9.6" rx="6" ry="1.2" fill="#5a4e52"/><path d="M69,47 C73,42.300 83.500,42.300 86.500,46.500 C89,50 88.200,56.500 85,60 L71,55 Z" fill="#8a5552"/><path d="M71.500,50.200 C77,48.300 82.500,49.800 86.200,53.800" fill="none" stroke="#4c2c2a" stroke-width="1.300" opacity="0.75" filter="url(#blur1)"/><path d="M71,46.500 C76,44.200 82,44.600 86,47.600" fill="none" stroke="#b07f7c" stroke-width="1.300" opacity="0.8" filter="url(#blur1)"/><path d="M73,54.300 C78,53.200 82,54.500 85.300,57.800" fill="none" stroke="#b07f7c" stroke-width="1" opacity="0.5" filter="url(#blur1)"/><path d="M35.500,86 C36.500,96 32,102.500 26,104.800 C22,106.200 19,106.200 16.500,106.800" fill="none" stroke="#5f5c5c" stroke-width="1.9" stroke-linecap="round"/><g clip-path="url(#hc4)"><g filter="url(#hearttex)"><rect x="15" y="44" width="88" height="68" fill="#715549"/><path d="M54.500,48 C45,54.500 35,62 29,70.500 C26,76 25,84 26,92 L10,95 L10,44 Z" fill="#5c4038"/><path d="M33,48 C25,53 19,60 19,68 C19,78 23,86 29,93" fill="none" stroke="#2e201c" stroke-width="6.500" opacity="0.8" filter="url(#blur2)"/><ellipse cx="36" cy="55" rx="8" ry="5" fill="#7a5a4e" opacity="0.55" filter="url(#blur2)" transform="rotate(-38 36 55)"/><ellipse cx="55" cy="67" rx="21" ry="15" fill="#94786a" opacity="0.85" filter="url(#blur3)"/><ellipse cx="49" cy="61" rx="10" ry="6" fill="#a89082" opacity="0.55" filter="url(#blur3)"/><path d="M86,55 C93,60 97.500,69 97.500,79 C97.500,90 94,98 88,103" fill="none" stroke="#43302b" stroke-width="9" opacity="0.9" filter="url(#blur3)"/><path d="M30,97 C40,108 50,108 58,107 C68,108.500 82,108.500 91,100" fill="none" stroke="#2e201c" stroke-width="9" opacity="0.9" filter="url(#blur3)"/><ellipse cx="84" cy="88" rx="8" ry="12" fill="#7a4a3a" opacity="0.5" filter="url(#blur3)"/><path d="M56,108 C56.500,104 58,101 61,99" fill="none" stroke="#43302b" stroke-width="1.500" opacity="0.6" filter="url(#blur1)"/><path d="M54.500,49.400 C45.500,55.500 35.500,62.500 28.800,70.500" fill="none" stroke="#2f1d19" stroke-width="1.700" stroke-linecap="round" opacity="0.9"/><path d="M55.500,50.800 C46.500,57 37,63.500 30.500,71" fill="none" stroke="#94786a" stroke-width="1" stroke-linecap="round" opacity="0.35"/><path d="M28.800,70.500 C26.400,76 25.600,84 27.500,91.500" fill="none" stroke="#2f1d19" stroke-width="1.600" opacity="0.5" filter="url(#blur1)"/><path d="M80,56 C78.500,64 77,70 74,76 C72,81 71.500,86 73,93" fill="none" stroke="#4a3127" stroke-width="0.9" opacity="0.85"/><path d="M76,72 C79,76 80.500,80 81,85" fill="none" stroke="#4a3127" stroke-width="0.6" opacity="0.75"/><path d="M74,78 C77.500,82 78,87 77.500,91" fill="none" stroke="#4a3127" stroke-width="0.55" opacity="0.75"/><path d="M78,64 C82,67 84,71 85,76" fill="none" stroke="#4a3127" stroke-width="0.55" opacity="0.65"/><path d="M44,57 C43,62 44,66 46.500,70" fill="none" stroke="#4a3127" stroke-width="0.7" opacity="0.75"/><path d="M40,61 C41.500,64 41.500,67 41,70" fill="none" stroke="#4a3127" stroke-width="0.5" opacity="0.65"/><path d="M45,63 C48,65 50,68 50.500,71" fill="none" stroke="#4a3127" stroke-width="0.5" opacity="0.65"/></g></g><path d="M53.500,60 C53,50 55,40.500 62.500,37.600 C69,36 78,36.600 84.800,37.600 C86.700,39 86.700,43.600 84.900,45 C79,46.600 73.500,46.400 70,48.500 C68,50.500 69.500,55 71,62 C65,66 57,66 52,62 C52,61 53,60.500 53.500,60 Z" fill="url(#hp4)"/><ellipse cx="85.300" cy="41.300" rx="1.500" ry="3.500" fill="#4a535a"/><path d="M58.500,42.500 C61.500,39.300 68,38.600 82,39.200" fill="none" stroke="#d0d8de" stroke-width="1.400" opacity="0.8" stroke-linecap="round" filter="url(#blur1)"/><ellipse cx="58.600" cy="39.400" rx="1.500" ry="1.200" fill="#fff" opacity="0.75" filter="url(#blur1)"/></g><g transform="translate(782.6,359.7) scale(1.0)"><ellipse cx="58" cy="107.500" rx="44" ry="3.600" fill="#4a403a" opacity="0.30" filter="url(#blur3)"/><ellipse cx="62" cy="107.200" rx="30" ry="2.200" fill="#2a201a" opacity="0.35" filter="url(#blur2)"/><rect x="24.5" y="35" width="12" height="5.6" rx="1.6" fill="url(#hst5)"/><rect x="20.2" y="43.6" width="14" height="6.4" rx="1.8" fill="url(#hst5)"/><ellipse cx="25" cy="37.8" rx="1.2" ry="2.6" fill="#4c241a"/><ellipse cx="20.8" cy="46.8" rx="1.3" ry="3.0" fill="#4c241a"/><path d="M58.3,10.8 L66.4,10.8 L67.4,29 L58.5,29 Z" fill="url(#hv5)"/><ellipse cx="62.35" cy="10.8" rx="4.05" ry="1.4" fill="#b6705a"/><ellipse cx="62.35" cy="10.95" rx="3.1" ry="0.9" fill="#70382b"/><path d="M47.1,9 L56.4,9 L57.4,29 L47.4,29 Z" fill="url(#hv5)"/><ellipse cx="51.75" cy="9" rx="4.65" ry="1.5" fill="#b6705a"/><ellipse cx="51.75" cy="9.2" rx="3.7" ry="1.0" fill="#70382b"/><path d="M52,31 L62,31 L62,44 L52,44 Z" fill="#3e1e14"/><path d="M50.4,56 L50.4,34.500 C50.4,27.600 55.800,26 59.300,27.300 C62.800,28.600 63.500,32.500 63.400,40" fill="none" stroke="#4c241a" stroke-width="11.8"/><path d="M50.4,56 L50.4,34.500 C50.4,27.600 55.800,26 59.300,27.300 C62.800,28.600 63.500,32.500 63.400,40" fill="none" stroke="#884838" stroke-width="10.6"/><path d="M50.4,56 L50.4,34.500 C50.4,27.600 55.800,26 59.300,27.300 C62.800,28.600 63.500,32.500 63.400,40" fill="none" stroke="#b6705a" stroke-width="4.2" opacity="0.85" filter="url(#blur1)" transform="translate(-1.4,-1.6)"/><path d="M55.800,54 L55.900,40 C56,36.800 56.600,35 57.300,34.800 C58,35 58.300,37 58.300,40" fill="none" stroke="#4c241a" stroke-width="2.2" opacity="0.75" filter="url(#blur1)"/><path d="M68.200,31 C68.800,34 68.700,37 68.200,40" fill="none" stroke="#4c241a" stroke-width="2" opacity="0.6" filter="url(#blur1)"/><path d="M31.6,9.4 L45.9,9.4 L44.800,22 C43.600,30 43.800,40 45.200,54 L34.4,54 C35,40 34.600,28 33,20 Z" fill="url(#hs5)"/><ellipse cx="38.75" cy="9.4" rx="7.15" ry="1.8" fill="#a07260"/><ellipse cx="38.75" cy="9.6" rx="6" ry="1.2" fill="#6a4034"/><path d="M69,47 C73,42.300 83.500,42.300 86.500,46.500 C89,50 88.200,56.500 85,60 L71,55 Z" fill="#a5523f"/><path d="M71.500,50.200 C77,48.300 82.500,49.800 86.200,53.800" fill="none" stroke="#5b271d" stroke-width="1.300" opacity="0.75" filter="url(#blur1)"/><path d="M71,46.500 C76,44.200 82,44.600 86,47.600" fill="none" stroke="#cc7a64" stroke-width="1.300" opacity="0.8" filter="url(#blur1)"/><path d="M73,54.300 C78,53.200 82,54.500 85.300,57.800" fill="none" stroke="#cc7a64" stroke-width="1" opacity="0.5" filter="url(#blur1)"/><path d="M35.500,86 C36.500,96 32,102.500 26,104.800 C22,106.200 19,106.200 16.500,106.800" fill="none" stroke="#5f5c5c" stroke-width="1.9" stroke-linecap="round"/><g clip-path="url(#hc5)"><g filter="url(#hearttex)"><rect x="15" y="44" width="88" height="68" fill="#93624b"/><path d="M54.500,48 C45,54.500 35,62 29,70.500 C26,76 25,84 26,92 L10,95 L10,44 Z" fill="#7c4636"/><path d="M33,48 C25,53 19,60 19,68 C19,78 23,86 29,93" fill="none" stroke="#3e1e14" stroke-width="6.500" opacity="0.8" filter="url(#blur2)"/><ellipse cx="36" cy="55" rx="8" ry="5" fill="#9c6450" opacity="0.55" filter="url(#blur2)" transform="rotate(-38 36 55)"/><ellipse cx="55" cy="67" rx="21" ry="15" fill="#bc9077" opacity="0.85" filter="url(#blur3)"/><ellipse cx="49" cy="61" rx="10" ry="6" fill="#d0a890" opacity="0.55" filter="url(#blur3)"/><path d="M86,55 C93,60 97.500,69 97.500,79 C97.500,90 94,98 88,103" fill="none" stroke="#5a3024" stroke-width="9" opacity="0.9" filter="url(#blur3)"/><path d="M30,97 C40,108 50,108 58,107 C68,108.500 82,108.500 91,100" fill="none" stroke="#3e1e14" stroke-width="9" opacity="0.9" filter="url(#blur3)"/><ellipse cx="84" cy="88" rx="8" ry="12" fill="#a04a2c" opacity="0.5" filter="url(#blur3)"/><path d="M56,108 C56.500,104 58,101 61,99" fill="none" stroke="#5a3024" stroke-width="1.500" opacity="0.6" filter="url(#blur1)"/><path d="M54.500,49.400 C45.500,55.500 35.500,62.500 28.800,70.500" fill="none" stroke="#3d1b12" stroke-width="1.700" stroke-linecap="round" opacity="0.9"/><path d="M55.500,50.800 C46.500,57 37,63.500 30.500,71" fill="none" stroke="#bc9077" stroke-width="1" stroke-linecap="round" opacity="0.35"/><path d="M28.800,70.500 C26.400,76 25.600,84 27.500,91.500" fill="none" stroke="#3d1b12" stroke-width="1.600" opacity="0.5" filter="url(#blur1)"/><path d="M80,56 C78.500,64 77,70 74,76 C72,81 71.500,86 73,93" fill="none" stroke="#5a2e1e" stroke-width="0.9" opacity="0.85"/><path d="M76,72 C79,76 80.500,80 81,85" fill="none" stroke="#5a2e1e" stroke-width="0.6" opacity="0.75"/><path d="M74,78 C77.500,82 78,87 77.500,91" fill="none" stroke="#5a2e1e" stroke-width="0.55" opacity="0.75"/><path d="M78,64 C82,67 84,71 85,76" fill="none" stroke="#5a2e1e" stroke-width="0.55" opacity="0.65"/><path d="M44,57 C43,62 44,66 46.500,70" fill="none" stroke="#5a2e1e" stroke-width="0.7" opacity="0.75"/><path d="M40,61 C41.500,64 41.500,67 41,70" fill="none" stroke="#5a2e1e" stroke-width="0.5" opacity="0.65"/><path d="M45,63 C48,65 50,68 50.500,71" fill="none" stroke="#5a2e1e" stroke-width="0.5" opacity="0.65"/></g></g><path d="M53.500,60 C53,50 55,40.500 62.500,37.600 C69,36 78,36.600 84.800,37.600 C86.700,39 86.700,43.600 84.900,45 C79,46.600 73.500,46.400 70,48.500 C68,50.500 69.500,55 71,62 C65,66 57,66 52,62 C52,61 53,60.500 53.500,60 Z" fill="url(#hp5)"/><ellipse cx="85.300" cy="41.300" rx="1.500" ry="3.500" fill="#50636a"/><path d="M58.500,42.500 C61.500,39.300 68,38.600 82,39.200" fill="none" stroke="#d0dee2" stroke-width="1.400" opacity="0.8" stroke-linecap="round" filter="url(#blur1)"/><ellipse cx="58.600" cy="39.400" rx="1.500" ry="1.200" fill="#fff" opacity="0.75" filter="url(#blur1)"/></g><g transform="translate(1071.6,369.7) scale(0.787,0.854)"><ellipse cx="58" cy="107.500" rx="44" ry="3.600" fill="#4a403a" opacity="0.30" filter="url(#blur3)"/><ellipse cx="62" cy="107.200" rx="30" ry="2.200" fill="#2a201a" opacity="0.35" filter="url(#blur2)"/><rect x="24.5" y="35" width="12" height="5.6" rx="1.6" fill="url(#hst6)"/><rect x="20.2" y="43.6" width="14" height="6.4" rx="1.8" fill="url(#hst6)"/><ellipse cx="25" cy="37.8" rx="1.2" ry="2.6" fill="#6c2416"/><ellipse cx="20.8" cy="46.8" rx="1.3" ry="3.0" fill="#6c2416"/><path d="M58.3,10.8 L66.4,10.8 L67.4,29 L58.5,29 Z" fill="url(#hv6)"/><ellipse cx="62.35" cy="10.8" rx="4.05" ry="1.4" fill="#e07052"/><ellipse cx="62.35" cy="10.95" rx="3.1" ry="0.9" fill="#8a3424"/><path d="M47.1,9 L56.4,9 L57.4,29 L47.4,29 Z" fill="url(#hv6)"/><ellipse cx="51.75" cy="9" rx="4.65" ry="1.5" fill="#e07052"/><ellipse cx="51.75" cy="9.2" rx="3.7" ry="1.0" fill="#8a3424"/><path d="M52,31 L62,31 L62,44 L52,44 Z" fill="#5e2410"/><path d="M50.4,56 L50.4,34.500 C50.4,27.600 55.800,26 59.300,27.300 C62.800,28.600 63.500,32.500 63.400,40" fill="none" stroke="#6c2416" stroke-width="11.8"/><path d="M50.4,56 L50.4,34.500 C50.4,27.600 55.800,26 59.300,27.300 C62.800,28.600 63.500,32.500 63.400,40" fill="none" stroke="#b04830" stroke-width="10.6"/><path d="M50.4,56 L50.4,34.500 C50.4,27.600 55.800,26 59.300,27.300 C62.800,28.600 63.500,32.500 63.400,40" fill="none" stroke="#e07052" stroke-width="4.2" opacity="0.85" filter="url(#blur1)" transform="translate(-1.4,-1.6)"/><path d="M55.800,54 L55.900,40 C56,36.800 56.600,35 57.300,34.800 C58,35 58.300,37 58.300,40" fill="none" stroke="#6c2416" stroke-width="2.2" opacity="0.75" filter="url(#blur1)"/><path d="M68.200,31 C68.800,34 68.700,37 68.200,40" fill="none" stroke="#6c2416" stroke-width="2" opacity="0.6" filter="url(#blur1)"/><path d="M31.6,9.4 L45.9,9.4 L44.800,22 C43.600,30 43.800,40 45.200,54 L34.4,54 C35,40 34.600,28 33,20 Z" fill="url(#hs6)"/><ellipse cx="38.75" cy="9.4" rx="7.15" ry="1.8" fill="#cc8460"/><ellipse cx="38.75" cy="9.6" rx="6" ry="1.2" fill="#8a4b35"/><path d="M69,47 C73,42.300 83.500,42.300 86.500,46.500 C89,50 88.200,56.500 85,60 L71,55 Z" fill="#c64a36"/><path d="M71.500,50.200 C77,48.300 82.500,49.800 86.200,53.800" fill="none" stroke="#7e241a" stroke-width="1.300" opacity="0.75" filter="url(#blur1)"/><path d="M71,46.500 C76,44.200 82,44.600 86,47.600" fill="none" stroke="#e57a62" stroke-width="1.300" opacity="0.8" filter="url(#blur1)"/><path d="M73,54.300 C78,53.200 82,54.500 85.300,57.800" fill="none" stroke="#e57a62" stroke-width="1" opacity="0.5" filter="url(#blur1)"/><path d="M35.500,86 C36.500,96 32,102.500 26,104.800 C22,106.200 19,106.200 16.500,106.800" fill="none" stroke="#7d8a3a" stroke-width="1.9" stroke-linecap="round"/><g clip-path="url(#hc6)"><g filter="url(#hearttexL)"><rect x="15" y="44" width="88" height="68" fill="#c07f55"/><path d="M54.500,48 C45,54.500 35,62 29,70.500 C26,76 25,84 26,92 L10,95 L10,44 Z" fill="#9c4a30"/><path d="M33,48 C25,53 19,60 19,68 C19,78 23,86 29,93" fill="none" stroke="#5e2410" stroke-width="6.500" opacity="0.8" filter="url(#blur2)"/><ellipse cx="36" cy="55" rx="8" ry="5" fill="#c27a52" opacity="0.55" filter="url(#blur2)" transform="rotate(-38 36 55)"/><ellipse cx="55" cy="67" rx="21" ry="15" fill="#e3b48a" opacity="0.85" filter="url(#blur3)"/><ellipse cx="49" cy="61" rx="10" ry="6" fill="#f0cca0" opacity="0.55" filter="url(#blur3)"/><path d="M86,55 C93,60 97.500,69 97.500,79 C97.500,90 94,98 88,103" fill="none" stroke="#8a3a22" stroke-width="9" opacity="0.9" filter="url(#blur3)"/><path d="M30,97 C40,108 50,108 58,107 C68,108.500 82,108.500 91,100" fill="none" stroke="#5e2410" stroke-width="9" opacity="0.9" filter="url(#blur3)"/><ellipse cx="84" cy="88" rx="8" ry="12" fill="#c0401c" opacity="0.8" filter="url(#blur3)"/><path d="M56,108 C56.500,104 58,101 61,99" fill="none" stroke="#8a3a22" stroke-width="1.500" opacity="0.6" filter="url(#blur1)"/><path d="M54.500,49.400 C45.500,55.500 35.500,62.500 28.800,70.500" fill="none" stroke="#55200f" stroke-width="1.700" stroke-linecap="round" opacity="0.9"/><path d="M55.500,50.800 C46.500,57 37,63.500 30.500,71" fill="none" stroke="#e3b48a" stroke-width="1" stroke-linecap="round" opacity="0.35"/><path d="M28.800,70.500 C26.400,76 25.600,84 27.500,91.500" fill="none" stroke="#55200f" stroke-width="1.600" opacity="0.5" filter="url(#blur1)"/><path d="M80,56 C78.500,64 77,70 74,76 C72,81 71.500,86 73,93" fill="none" stroke="#7a3a22" stroke-width="0.9" opacity="0.85"/><path d="M76,72 C79,76 80.500,80 81,85" fill="none" stroke="#7a3a22" stroke-width="0.6" opacity="0.75"/><path d="M74,78 C77.500,82 78,87 77.500,91" fill="none" stroke="#7a3a22" stroke-width="0.55" opacity="0.75"/><path d="M78,64 C82,67 84,71 85,76" fill="none" stroke="#7a3a22" stroke-width="0.55" opacity="0.65"/><path d="M44,57 C43,62 44,66 46.500,70" fill="none" stroke="#7a3a22" stroke-width="0.7" opacity="0.75"/><path d="M40,61 C41.500,64 41.500,67 41,70" fill="none" stroke="#7a3a22" stroke-width="0.5" opacity="0.65"/><path d="M45,63 C48,65 50,68 50.500,71" fill="none" stroke="#7a3a22" stroke-width="0.5" opacity="0.65"/><g fill="none" stroke="#b3bf25" stroke-linecap="round" opacity="0.95"><path d="M41,63 C37,69 34,76 33,84 C32.500,90 33,96 31.500,103" stroke-width="1.5"/><path d="M38,68 C42,74 46,78 52,80 C56,81.500 60,81 63,79" stroke-width="1.2"/><path d="M34,78 C38,82 43,84 48,84" stroke-width="1.0"/><path d="M36,72 C33,74 31,78 30,82" stroke-width="1.0"/><path d="M42,74 C41,79 42,84 45,88" stroke-width="0.9"/><path d="M33,88 C36,90 39,90 42,89" stroke-width="0.9"/><path d="M46,70 C49,73 52,74 55,73" stroke-width="0.8"/><path d="M81,58 C85,63 88,68 89.500,74 C91,80 91,86 89,92" stroke-width="1.2"/><path d="M85,64 C82,67 80,71 79.500,75" stroke-width="0.9"/><path d="M89,76 C86,79 85,83 85,87" stroke-width="0.9"/></g><ellipse cx="38" cy="78" rx="9" ry="13" fill="#b9c22e" opacity="0.42" filter="url(#blur3)"/></g></g><path d="M31.500,100 C31,104 28,106.500 23,107" fill="none" stroke="#9aa82a" stroke-width="1.3" stroke-linecap="round"/><path d="M53.500,60 C53,50 55,40.500 62.500,37.600 C69,36 78,36.600 84.800,37.600 C86.700,39 86.700,43.600 84.900,45 C79,46.600 73.500,46.400 70,48.500 C68,50.500 69.500,55 71,62 C65,66 57,66 52,62 C52,61 53,60.500 53.500,60 Z" fill="url(#hp6)"/><ellipse cx="85.300" cy="41.300" rx="1.500" ry="3.500" fill="#4c6678"/><path d="M58.500,42.500 C61.500,39.300 68,38.600 82,39.200" fill="none" stroke="#dbe8f0" stroke-width="1.400" opacity="0.8" stroke-linecap="round" filter="url(#blur1)"/><ellipse cx="58.600" cy="39.400" rx="1.500" ry="1.200" fill="#fff" opacity="0.75" filter="url(#blur1)"/></g><g transform="translate(26,211.3) scale(1.005,0.97)"><ellipse cx="38" cy="42.500" rx="38" ry="3.200" fill="#3c3630" opacity="0.30" filter="url(#blur3)"/><ellipse cx="40" cy="42" rx="24" ry="1.600" fill="#2a2622" opacity="0.35" filter="url(#blur2)"/><path transform="translate(0,0.0)" d="M66,30.500 C72,31.500 78,32.300 86,32.500 C93,32.700 100,32.800 106,32.600 C100,34.400 92,35.300 84,35.500 C77,35.700 71,35.800 66,35.600 Z" fill="url(#tailg)"/><g transform="translate(-0.3,1.3)"><ellipse cx="16.500" cy="9.500" rx="4.400" ry="3.900" fill="#8f857a"/><ellipse cx="16.300" cy="9.800" rx="2.800" ry="2.500" fill="#a89688" opacity="0.8"/></g><path d="M28,40 C30,40 33,40.800 33.500,42.600 C32,44.400 27,44.600 24.500,43.700 C24.200,42 26,40.400 28,40 Z" fill="#d2a59a"/><path d="M50,38.500 C54,38 59,38.600 60,40.300 C58,42.200 52,42.400 48.500,41.600 C48,40.200 48.800,39 50,38.500 Z" fill="#d2a59a"/><path d="M14,37 C16,37 19,37.500 20,39 C18,40.300 14,40.300 12,39.500 C12,38.300 13,37.400 14,37 Z" fill="#9a8f88" opacity="0.8"/><g clip-path="url(#mc1)"><g filter="url(#furtexh)"><rect x="-2" y="0" width="75" height="46" fill="#8a8073"/><ellipse cx="42" cy="14" rx="24" ry="9" fill="#aba193" opacity="0.9" filter="url(#blur3)"/><ellipse cx="12" cy="20" rx="9" ry="5" fill="#aba193" opacity="0.7" filter="url(#blur2)"/><path d="M6,32 C16,38 28,42 44,42 C54,42 64,41 69,34" fill="none" stroke="#5a5248" stroke-width="8" opacity="0.75" filter="url(#blur3)"/><path d="M62,14 C68,22 70,30 68,38" fill="none" stroke="#5a5248" stroke-width="5" opacity="0.5" filter="url(#blur3)"/><path d="M22,22 C24,28 24,34 22,40" fill="none" stroke="#5a5248" stroke-width="2.500" opacity="0.22" filter="url(#blur2)"/></g></g><g transform="translate(-1.9,1.3)"><ellipse cx="30" cy="13.500" rx="6.800" ry="7.800" fill="url(#earg)" transform="rotate(18 30 13.500)"/><path d="M25,18 C24.500,13 26,8.500 29.500,6.500" fill="none" stroke="#b98270" stroke-width="1" opacity="0.6" filter="url(#blur1)"/></g><g transform="translate(0,0.6)"><ellipse cx="14.300" cy="21.200" rx="1.900" ry="1.700" fill="#17110e"/><circle cx="13.800" cy="20.600" r="0.500" fill="#fff" opacity="0.8"/></g><ellipse cx="1.300" cy="26.400" rx="1.400" ry="1.600" fill="#c4917e"/></g><g transform="translate(338.5,196) scale(1.275)"><ellipse cx="38" cy="42.500" rx="38" ry="3.200" fill="#3c3630" opacity="0.30" filter="url(#blur3)"/><ellipse cx="40" cy="42" rx="24" ry="1.600" fill="#2a2622" opacity="0.35" filter="url(#blur2)"/><path transform="translate(0,2.2)" d="M66,30.500 C72,31.500 78,32.300 86,32.500 C93,32.700 100,32.800 106,32.600 C100,34.400 92,35.300 84,35.500 C77,35.700 71,35.800 66,35.600 Z" fill="url(#tailg)"/><g transform="translate(-3.0,3.0)"><ellipse cx="16.500" cy="9.500" rx="4.400" ry="3.900" fill="#8f857a"/><ellipse cx="16.300" cy="9.800" rx="2.800" ry="2.500" fill="#a89688" opacity="0.8"/></g><path d="M28,40 C30,40 33,40.800 33.500,42.600 C32,44.400 27,44.600 24.500,43.700 C24.200,42 26,40.400 28,40 Z" fill="#d2a59a"/><path d="M50,38.500 C54,38 59,38.600 60,40.300 C58,42.200 52,42.400 48.500,41.600 C48,40.200 48.800,39 50,38.500 Z" fill="#d2a59a"/><path d="M14,37 C16,37 19,37.500 20,39 C18,40.300 14,40.300 12,39.500 C12,38.300 13,37.400 14,37 Z" fill="#9a8f88" opacity="0.8"/><g clip-path="url(#mc2)"><g filter="url(#furtexh)"><rect x="-2" y="0" width="75" height="46" fill="#8a8073"/><ellipse cx="42" cy="14" rx="24" ry="9" fill="#aba193" opacity="0.9" filter="url(#blur3)"/><ellipse cx="12" cy="20" rx="9" ry="5" fill="#aba193" opacity="0.7" filter="url(#blur2)"/><path d="M6,32 C16,38 28,42 44,42 C54,42 64,41 69,34" fill="none" stroke="#5a5248" stroke-width="8" opacity="0.75" filter="url(#blur3)"/><path d="M62,14 C68,22 70,30 68,38" fill="none" stroke="#5a5248" stroke-width="5" opacity="0.5" filter="url(#blur3)"/><path d="M22,22 C24,28 24,34 22,40" fill="none" stroke="#5a5248" stroke-width="2.500" opacity="0.22" filter="url(#blur2)"/></g></g><g transform="translate(-3.5,1.0)"><ellipse cx="30" cy="13.500" rx="6.800" ry="7.800" fill="url(#earg)" transform="rotate(18 30 13.500)"/><path d="M25,18 C24.500,13 26,8.500 29.500,6.500" fill="none" stroke="#b98270" stroke-width="1" opacity="0.6" filter="url(#blur1)"/></g><g transform="translate(0,2.2)"><ellipse cx="14.300" cy="21.200" rx="1.900" ry="1.700" fill="#17110e"/><circle cx="13.800" cy="20.600" r="0.500" fill="#fff" opacity="0.8"/></g><ellipse cx="1.300" cy="26.400" rx="1.400" ry="1.600" fill="#c4917e"/></g><g transform="translate(620,200)"><ellipse cx="66" cy="61.500" rx="42" ry="3.200" fill="#3c3630" opacity="0.28" filter="url(#blur3)"/><ellipse cx="68" cy="60.800" rx="28" ry="1.700" fill="#2a2622" opacity="0.35" filter="url(#blur2)"/><path d="M103,52.500 C110,53 117.500,54.500 120,58 C122,61.500 118.500,63.600 112,64.200 C101,65.200 88,65 78,65.400" fill="none" stroke="#c99a82" stroke-width="2.200" stroke-linecap="round"/><path d="M103,52.800 C109,53.200 115,54.300 118.500,56.500" fill="none" stroke="#c99a82" stroke-width="3.400" stroke-linecap="round"/><path d="M52,56.500 C55,56.300 59,57 60,58.600 C58,60.600 52.500,60.800 49.500,59.800 C49.400,58.300 50.500,57 52,56.500 Z" fill="#d2a59a"/><path d="M80,59 C83,58.600 87.500,59.200 88.500,60.800 C86,62.300 81,62.400 78.500,61.600 C78.200,60.400 79,59.500 80,59 Z" fill="#9a908a"/><path d="M36,52.500 C38,52.300 41,53 42,54.300 C40,55.600 36,55.600 34,54.800 C34,53.800 35,52.900 36,52.500 Z" fill="#9a8f88" opacity="0.8"/><g clip-path="url(#mc4)"><g filter="url(#furtexh)"><rect x="15" y="10" width="95" height="55" fill="#8a8073"/><ellipse cx="74" cy="28" rx="24" ry="9" fill="#aba193" opacity="0.9" filter="url(#blur3)" transform="rotate(18 74 28)"/><ellipse cx="32" cy="25" rx="9" ry="4.500" fill="#aba193" opacity="0.7" filter="url(#blur2)" transform="rotate(-20 32 25)"/><path d="M30,40 C38,46 40,56 48,60 C62,62 86,62 104,56" fill="none" stroke="#5a5248" stroke-width="9" opacity="0.75" filter="url(#blur3)"/><path d="M98,34 C104,42 106,50 104,58" fill="none" stroke="#5a5248" stroke-width="5" opacity="0.45" filter="url(#blur3)"/><path d="M47,32 C50,40 50,50 47,58" fill="none" stroke="#5a5248" stroke-width="3" opacity="0.25" filter="url(#blur2)"/></g></g><ellipse cx="55.200" cy="23.900" rx="7.200" ry="8.600" fill="url(#earg)" transform="rotate(14 55.200 23.900)"/><path d="M49.800,28.500 C49.300,23.500 51,19 54.500,16.500" fill="none" stroke="#b98270" stroke-width="1" opacity="0.6" filter="url(#blur1)"/><ellipse cx="35.200" cy="27" rx="2.200" ry="2" fill="#17110e"/><circle cx="34.600" cy="26.400" r="0.600" fill="#fff" opacity="0.8"/><ellipse cx="21" cy="28.600" rx="1.500" ry="1.700" fill="#9c8676"/></g><g transform="translate(635.6,10.6) scale(0.985)"><ellipse cx="44" cy="90.500" rx="34" ry="3" fill="#3c3630" opacity="0.30" filter="url(#blur3)"/><ellipse cx="40" cy="90" rx="20" ry="1.600" fill="#2a2622" opacity="0.40" filter="url(#blur2)"/><path d="M66,84 C73,85.500 84,86.300 96,86.600 C104,86.800 110,86.900 116,86.800 C108,88.600 98,89.300 88,89.400 C78,89.500 70,89.400 64,89.200 Z" fill="url(#tailg)"/><ellipse cx="25.700" cy="13" rx="8.300" ry="6" fill="#8b8075"/><ellipse cx="25.500" cy="12.500" rx="5.500" ry="3.500" fill="#a08e82" opacity="0.7"/><path d="M44,89.500 C47,89 52,89.500 53,91.300 C51,93.200 45,93.400 42.500,92.400 C42.200,91 43,90 44,89.500 Z" fill="#d89a98"/><g clip-path="url(#mc3)"><g filter="url(#furtex)"><rect x="-2" y="0" width="75" height="95" fill="#8a8073"/><ellipse cx="48" cy="50" rx="14" ry="26" fill="#aba193" opacity="0.9" filter="url(#blur3)" transform="rotate(-22 48 50)"/><ellipse cx="12" cy="27" rx="9" ry="5" fill="#aba193" opacity="0.7" filter="url(#blur2)"/><path d="M24,64 C22,72 22,82 26,90 C36,92 52,92 66,88" fill="none" stroke="#5a5248" stroke-width="8" opacity="0.7" filter="url(#blur3)"/><path d="M22,40 C24,46 24,52 22,58" fill="none" stroke="#5a5248" stroke-width="4" opacity="0.5" filter="url(#blur2)"/><path d="M30,46 C27,52 26,58 28,64" fill="none" stroke="#5a5248" stroke-width="3" opacity="0.4" filter="url(#blur2)"/></g></g><path d="M28,48 C24,50 20,51 16.500,50 C13,49 10.500,49.500 10,52 C10,55 13,57 17,57.500 C21,58 26,57 30,54 Z" fill="#857c70"/><ellipse cx="12.500" cy="53" rx="2.800" ry="2.600" fill="#9c8e84"/><ellipse cx="29.900" cy="24.400" rx="7.600" ry="9" fill="url(#earg)" transform="rotate(12 29.900 24.400)"/><path d="M24.500,29.500 C23.500,24.500 25,19.500 28.500,16.500" fill="none" stroke="#b98270" stroke-width="1" opacity="0.6" filter="url(#blur1)"/><ellipse cx="13" cy="25.300" rx="2.100" ry="1.900" fill="#17110e"/><circle cx="12.500" cy="24.700" r="0.550" fill="#fff" opacity="0.8"/><ellipse cx="1.200" cy="30.500" rx="1.300" ry="1.600" fill="#b08a7c"/><path d="M2,33 L-3,38 M3,34 L0,41" stroke="#cfc8c0" stroke-width="0.400" fill="none"/></g><g transform="translate(66.5,63.5)"><ellipse cx="0" cy="14.28" rx="32.64" ry="4.42" fill="#6a7458" opacity="0.13" filter="url(#blur3)"/><g filter="url(#wisp)"><ellipse cx="0" cy="2.72" rx="31.959999999999997" ry="10.2" fill="#a0a88c" opacity="0.95"/><ellipse cx="-1.36" cy="-3.4000000000000004" rx="22.44" ry="8.84" fill="#b3baa0"/><ellipse cx="14.96" cy="0.68" rx="16.32" ry="6.800000000000001" fill="#b3baa0" opacity="0.9"/><ellipse cx="-19.040000000000003" cy="4.08" rx="11.56" ry="5.44" fill="#8a9478" opacity="0.7"/><ellipse cx="3.4000000000000004" cy="8.16" rx="20.4" ry="3.4000000000000004" fill="#8a9478" opacity="0.75"/><ellipse cx="1.36" cy="-0.68" rx="4.760000000000001" ry="2.3800000000000003" fill="#6a7458" opacity="0.8"/><path d="M-28.6,-3.4 q5.4,-2.0 13.6,0.7" fill="none" stroke="#b3baa0" stroke-width="0.9" opacity="0.8"/><path d="M-22.4,0.0 q5.4,-2.0 13.6,0.7" fill="none" stroke="#b3baa0" stroke-width="0.9" opacity="0.8"/><path d="M-16.3,3.4 q5.4,-2.0 13.6,0.7" fill="none" stroke="#b3baa0" stroke-width="0.9" opacity="0.8"/><path d="M-10.2,-3.4 q5.4,-2.0 13.6,0.7" fill="none" stroke="#b3baa0" stroke-width="0.9" opacity="0.8"/><path d="M-4.1,0.0 q5.4,-2.0 13.6,0.7" fill="none" stroke="#b3baa0" stroke-width="0.9" opacity="0.8"/><path d="M2.0,3.4 q5.4,-2.0 13.6,0.7" fill="none" stroke="#b3baa0" stroke-width="0.9" opacity="0.8"/><path d="M8.2,-3.4 q5.4,-2.0 13.6,0.7" fill="none" stroke="#b3baa0" stroke-width="0.9" opacity="0.8"/><path d="M14.3,0.0 q5.4,-2.0 13.6,0.7" fill="none" stroke="#b3baa0" stroke-width="0.9" opacity="0.8"/><path d="M20.4,3.4 q5.4,-2.0 13.6,0.7" fill="none" stroke="#b3baa0" stroke-width="0.9" opacity="0.8"/><path d="M-24.5,3.4 q4.1,1.7 10.9,-0.3" fill="none" stroke="#6a7458" stroke-width="0.8" opacity="0.5"/><path d="M-16.3,6.1 q4.1,1.7 10.9,-0.3" fill="none" stroke="#6a7458" stroke-width="0.8" opacity="0.5"/><path d="M-8.2,3.4 q4.1,1.7 10.9,-0.3" fill="none" stroke="#6a7458" stroke-width="0.8" opacity="0.5"/><path d="M0.0,6.1 q4.1,1.7 10.9,-0.3" fill="none" stroke="#6a7458" stroke-width="0.8" opacity="0.5"/><path d="M8.2,3.4 q4.1,1.7 10.9,-0.3" fill="none" stroke="#6a7458" stroke-width="0.8" opacity="0.5"/><path d="M16.3,6.1 q4.1,1.7 10.9,-0.3" fill="none" stroke="#6a7458" stroke-width="0.8" opacity="0.5"/></g></g><g transform="translate(393.5,71)"><ellipse cx="0" cy="13.86" rx="31.68" ry="4.29" fill="#86a060" opacity="0.13" filter="url(#blur3)"/><g filter="url(#wisp)"><ellipse cx="0" cy="2.64" rx="31.02" ry="9.9" fill="#c0d39a" opacity="0.95"/><ellipse cx="-1.32" cy="-3.3000000000000003" rx="21.78" ry="8.58" fill="#d5e2b4"/><ellipse cx="14.52" cy="0.66" rx="15.84" ry="6.6000000000000005" fill="#d5e2b4" opacity="0.9"/><ellipse cx="-18.48" cy="3.96" rx="11.22" ry="5.28" fill="#a6bd7e" opacity="0.7"/><ellipse cx="3.3000000000000003" cy="7.92" rx="19.8" ry="3.3000000000000003" fill="#a6bd7e" opacity="0.75"/><ellipse cx="1.32" cy="-0.66" rx="4.62" ry="2.31" fill="#86a060" opacity="0.8"/><path d="M-27.7,-3.3 q5.3,-2.0 13.2,0.7" fill="none" stroke="#d5e2b4" stroke-width="0.9" opacity="0.8"/><path d="M-21.8,0.0 q5.3,-2.0 13.2,0.7" fill="none" stroke="#d5e2b4" stroke-width="0.9" opacity="0.8"/><path d="M-15.8,3.3 q5.3,-2.0 13.2,0.7" fill="none" stroke="#d5e2b4" stroke-width="0.9" opacity="0.8"/><path d="M-9.9,-3.3 q5.3,-2.0 13.2,0.7" fill="none" stroke="#d5e2b4" stroke-width="0.9" opacity="0.8"/><path d="M-4.0,0.0 q5.3,-2.0 13.2,0.7" fill="none" stroke="#d5e2b4" stroke-width="0.9" opacity="0.8"/><path d="M2.0,3.3 q5.3,-2.0 13.2,0.7" fill="none" stroke="#d5e2b4" stroke-width="0.9" opacity="0.8"/><path d="M7.9,-3.3 q5.3,-2.0 13.2,0.7" fill="none" stroke="#d5e2b4" stroke-width="0.9" opacity="0.8"/><path d="M13.9,0.0 q5.3,-2.0 13.2,0.7" fill="none" stroke="#d5e2b4" stroke-width="0.9" opacity="0.8"/><path d="M19.8,3.3 q5.3,-2.0 13.2,0.7" fill="none" stroke="#d5e2b4" stroke-width="0.9" opacity="0.8"/><path d="M-23.8,3.3 q4.0,1.7 10.6,-0.3" fill="none" stroke="#86a060" stroke-width="0.8" opacity="0.5"/><path d="M-15.8,5.9 q4.0,1.7 10.6,-0.3" fill="none" stroke="#86a060" stroke-width="0.8" opacity="0.5"/><path d="M-7.9,3.3 q4.0,1.7 10.6,-0.3" fill="none" stroke="#86a060" stroke-width="0.8" opacity="0.5"/><path d="M0.0,5.9 q4.0,1.7 10.6,-0.3" fill="none" stroke="#86a060" stroke-width="0.8" opacity="0.5"/><path d="M7.9,3.3 q4.0,1.7 10.6,-0.3" fill="none" stroke="#86a060" stroke-width="0.8" opacity="0.5"/><path d="M15.8,5.9 q4.0,1.7 10.6,-0.3" fill="none" stroke="#86a060" stroke-width="0.8" opacity="0.5"/></g></g><g><ellipse cx="945" cy="166" rx="50" ry="8" fill="#7fa06a" opacity="0.28" filter="url(#blur3)"/><g filter="url(#wisp2)"><g filter="url(#celltex)"><ellipse cx="946" cy="148" rx="49" ry="22" fill="#bdd5a4" opacity="0.92"/><path d="M925,135 C935,120 950,112 962,104 C966,110 972,118 985,126 C975,134 950,138 925,135 Z" fill="#c9deb2" opacity="0.95"/><ellipse cx="952" cy="134" rx="32" ry="16" fill="#d6e6c2"/><ellipse cx="924" cy="151" rx="22" ry="13" fill="#a6c68e" opacity="0.85"/><ellipse cx="968" cy="156" rx="25" ry="10" fill="#9abd83" opacity="0.8"/><ellipse cx="921" cy="151" rx="8" ry="6.500" fill="#709b62" opacity="0.9"/><ellipse cx="958" cy="152" rx="7" ry="5" fill="#709b62" opacity="0.85"/><ellipse cx="943" cy="141" rx="6" ry="4.500" fill="#86ab72" opacity="0.8"/><ellipse cx="978" cy="130" rx="15" ry="9" fill="#cde1b6" opacity="0.9"/><ellipse cx="910" cy="135" rx="11" ry="6" fill="#d2e4bd" opacity="0.85"/><ellipse cx="990" cy="146" rx="9" ry="8" fill="#c4dbac" opacity="0.8"/><path d="M902.0,124.0 q6,-9 15,-2" fill="none" stroke="#f1f7e8" stroke-width="1.5" opacity="0.95"/><path d="M907.2,131.0 q6,-6 15,1" fill="none" stroke="#f1f7e8" stroke-width="1.5" opacity="0.95"/><path d="M912.4,138.0 q6,-3 15,4" fill="none" stroke="#f1f7e8" stroke-width="1.5" opacity="0.95"/><path d="M917.6,145.0 q6,0 15,-2" fill="none" stroke="#f1f7e8" stroke-width="1.5" opacity="0.95"/><path d="M922.8,125.0 q6,-9 15,1" fill="none" stroke="#f1f7e8" stroke-width="1.5" opacity="0.95"/><path d="M928.0,132.0 q6,-6 15,4" fill="none" stroke="#f1f7e8" stroke-width="1.5" opacity="0.95"/><path d="M933.2,139.0 q6,-3 15,-2" fill="none" stroke="#f1f7e8" stroke-width="1.5" opacity="0.95"/><path d="M938.4,146.0 q6,0 15,1" fill="none" stroke="#f1f7e8" stroke-width="1.5" opacity="0.95"/><path d="M943.6,126.0 q6,-9 15,4" fill="none" stroke="#f1f7e8" stroke-width="1.5" opacity="0.95"/><path d="M948.8,133.0 q6,-6 15,-2" fill="none" stroke="#f1f7e8" stroke-width="1.5" opacity="0.95"/><path d="M954.0,140.0 q6,-3 15,1" fill="none" stroke="#f1f7e8" stroke-width="1.5" opacity="0.95"/><path d="M959.2,147.0 q6,0 15,4" fill="none" stroke="#f1f7e8" stroke-width="1.5" opacity="0.95"/><path d="M964.4,127.0 q6,-9 15,-2" fill="none" stroke="#f1f7e8" stroke-width="1.5" opacity="0.95"/><path d="M969.6,134.0 q6,-6 15,1" fill="none" stroke="#f1f7e8" stroke-width="1.5" opacity="0.95"/><path d="M974.8,141.0 q6,-3 15,4" fill="none" stroke="#f1f7e8" stroke-width="1.5" opacity="0.95"/><path d="M980.0,148.0 q6,0 15,-2" fill="none" stroke="#f1f7e8" stroke-width="1.5" opacity="0.95"/><path d="M985.2,128.0 q6,-9 15,1" fill="none" stroke="#f1f7e8" stroke-width="1.5" opacity="0.95"/><path d="M990.4,135.0 q6,-6 15,4" fill="none" stroke="#f1f7e8" stroke-width="1.5" opacity="0.95"/><path d="M912.0,140.0 q3,-6 9,-3" fill="none" stroke="#ffffff" stroke-width="1.1" opacity="0.85"/><path d="M918.5,145.0 q3,-4 9,-1" fill="none" stroke="#ffffff" stroke-width="1.1" opacity="0.85"/><path d="M925.0,150.0 q3,-2 9,1" fill="none" stroke="#ffffff" stroke-width="1.1" opacity="0.85"/><path d="M931.5,155.0 q3,-6 9,3" fill="none" stroke="#ffffff" stroke-width="1.1" opacity="0.85"/><path d="M938.0,143.0 q3,-4 9,-3" fill="none" stroke="#ffffff" stroke-width="1.1" opacity="0.85"/><path d="M944.5,148.0 q3,-2 9,-1" fill="none" stroke="#ffffff" stroke-width="1.1" opacity="0.85"/><path d="M951.0,153.0 q3,-6 9,1" fill="none" stroke="#ffffff" stroke-width="1.1" opacity="0.85"/><path d="M957.5,141.0 q3,-4 9,3" fill="none" stroke="#ffffff" stroke-width="1.1" opacity="0.85"/><path d="M964.0,146.0 q3,-2 9,-3" fill="none" stroke="#ffffff" stroke-width="1.1" opacity="0.85"/><path d="M970.5,151.0 q3,-6 9,-1" fill="none" stroke="#ffffff" stroke-width="1.1" opacity="0.85"/><path d="M977.0,156.0 q3,-4 9,1" fill="none" stroke="#ffffff" stroke-width="1.1" opacity="0.85"/><path d="M983.5,144.0 q3,-2 9,3" fill="none" stroke="#ffffff" stroke-width="1.1" opacity="0.85"/><path d="M898.0,158.0 q5,4 11,1" fill="none" stroke="#7fa66c" stroke-width="1.1" opacity="0.7"/><path d="M906.2,163.0 q5,4 11,1" fill="none" stroke="#7fa66c" stroke-width="1.1" opacity="0.7"/><path d="M914.4,168.0 q5,4 11,1" fill="none" stroke="#7fa66c" stroke-width="1.1" opacity="0.7"/><path d="M922.6,162.0 q5,4 11,1" fill="none" stroke="#7fa66c" stroke-width="1.1" opacity="0.7"/><path d="M930.8,167.0 q5,4 11,1" fill="none" stroke="#7fa66c" stroke-width="1.1" opacity="0.7"/><path d="M939.0,161.0 q5,4 11,1" fill="none" stroke="#7fa66c" stroke-width="1.1" opacity="0.7"/><path d="M947.2,166.0 q5,4 11,1" fill="none" stroke="#7fa66c" stroke-width="1.1" opacity="0.7"/><path d="M955.4,160.0 q5,4 11,1" fill="none" stroke="#7fa66c" stroke-width="1.1" opacity="0.7"/><path d="M963.6,165.0 q5,4 11,1" fill="none" stroke="#7fa66c" stroke-width="1.1" opacity="0.7"/><path d="M971.8,159.0 q5,4 11,1" fill="none" stroke="#7fa66c" stroke-width="1.1" opacity="0.7"/><path d="M980.0,164.0 q5,4 11,1" fill="none" stroke="#7fa66c" stroke-width="1.1" opacity="0.7"/><path d="M988.2,158.0 q5,4 11,1" fill="none" stroke="#7fa66c" stroke-width="1.1" opacity="0.7"/></g></g><g filter="url(#wisp)"><path d="M963,107 C966,96 978,91.500 990,97 C1003,104 1011.500,120 1014,141" fill="none" stroke="#a9c98f" stroke-width="3.400" stroke-linecap="round" opacity="0.9"/><path d="M966,97 C971,92 978,90.500 985,93" fill="none" stroke="#b9d4a0" stroke-width="4.500" stroke-linecap="round" opacity="0.85"/><circle cx="1002" cy="127" r="2.800" fill="#a9c98f" opacity="0.9"/><circle cx="1009" cy="114" r="2" fill="#a9c98f" opacity="0.8"/><circle cx="998" cy="100" r="1.800" fill="#b9d4a0" opacity="0.8"/><circle cx="1015" cy="124" r="1.600" fill="#a9c98f" opacity="0.8"/><circle cx="960" cy="97" r="1.800" fill="#b9d4a0" opacity="0.8"/></g><circle cx="1016.500" cy="151.700" r="10.200" fill="url(#ballg)"/><ellipse cx="1013.500" cy="148" rx="4" ry="3" fill="#e3efd2" opacity="0.6" filter="url(#blur1)"/></g><g mask="url(#endoM)"><path d="M812,212.500 C828,211.500 842,207 852,201.500 C858,198 866,197 872,199.500 C884,204.500 896,208.500 912,209 C930,209.500 942,205 954,196.500 C962,190.500 970,187.500 978,188.500 C988,190 996,197 1006,203.500 C1016,209 1030,210 1046,209 C1062,208 1078,207 1094,209 C1112,211 1132,211.500 1154,211.500 L1154,225.500 C1100,227.500 1040,227 980,227 C920,227 860,227.500 812,226.500 Z" fill="url(#endoV)"/><path d="M812,225.800 C860,227.200 920,226.600 980,226.600 C1040,226.600 1100,227 1154,225.200" fill="none" stroke="#9cc07e" stroke-width="1.600" opacity="0.8"/><path d="M812,212.500 C828,211.500 842,207 852,201.500 C858,198 866,197 872,199.500 C884,204.500 896,208.500 912,209 C930,209.500 942,205 954,196.500 C962,190.500 970,187.500 978,188.500 C988,190 996,197 1006,203.500 C1016,209 1030,210 1046,209 C1062,208 1078,207 1094,209 C1112,211 1132,211.500 1154,211.500" fill="none" stroke="#b4d09a" stroke-width="1.200" opacity="0.9"/><ellipse cx="869" cy="213" rx="9.5" ry="6.5" fill="#a5c68c" stroke="#8fb574" stroke-width="0.800" opacity="0.85"/><ellipse cx="867.5" cy="212" rx="5.2250000000000005" ry="3.25" fill="#bcd6a6" opacity="0.7"/><ellipse cx="921.3" cy="216.8" rx="10" ry="5" fill="#a5c68c" stroke="#8fb574" stroke-width="0.800" opacity="0.85"/><ellipse cx="919.8" cy="215.8" rx="5.5" ry="2.5" fill="#bcd6a6" opacity="0.7"/><ellipse cx="971.1" cy="207.5" rx="9.5" ry="6.5" fill="#a5c68c" stroke="#8fb574" stroke-width="0.800" opacity="0.85"/><ellipse cx="969.6" cy="206.5" rx="5.2250000000000005" ry="3.25" fill="#bcd6a6" opacity="0.7"/><ellipse cx="1069.4" cy="216.6" rx="12" ry="5" fill="#a5c68c" stroke="#8fb574" stroke-width="0.800" opacity="0.85"/><ellipse cx="1067.9" cy="215.6" rx="6.6000000000000005" ry="2.5" fill="#bcd6a6" opacity="0.7"/></g><g><path d="M1013.500,196 L1014.900,210 M1015,226 L1015,231 M1015.200,245 L1015.700,256.500" stroke="#6d7f8c" stroke-width="1.300" fill="none"/><path d="M1025.300,196 L1024.900,209 M1025.200,225 L1026.300,231 M1026.600,245 L1026.600,256.500" stroke="#6d7f8c" stroke-width="1.300" fill="none"/><ellipse cx="1005.1" cy="170.9" rx="6.0" ry="5.6" fill="url(#blob)" transform="rotate(-20 1005.1 170.9)"/><ellipse cx="1003.6" cy="169.22" rx="2.4000000000000004" ry="1.68" fill="#b7dcf3" opacity="0.55" filter="url(#blur1)" transform="rotate(-20 1005.1 170.9)"/><ellipse cx="1009.8" cy="180.8" rx="5.8" ry="6.6" fill="url(#blob)" transform="rotate(-28 1009.8 180.8)"/><ellipse cx="1008.3499999999999" cy="178.82000000000002" rx="2.32" ry="1.9799999999999998" fill="#b7dcf3" opacity="0.55" filter="url(#blur1)" transform="rotate(-28 1009.8 180.8)"/><ellipse cx="1013.0" cy="192.2" rx="5.0" ry="6.8" fill="url(#blob)" transform="rotate(-12 1013.0 192.2)"/><ellipse cx="1011.75" cy="190.16" rx="2.0" ry="2.04" fill="#b7dcf3" opacity="0.55" filter="url(#blur1)" transform="rotate(-12 1013.0 192.2)"/><ellipse cx="1015.2" cy="217.8" rx="3.7" ry="9.2" fill="url(#blob)" transform="rotate(2 1015.2 217.8)"/><ellipse cx="1014.2750000000001" cy="215.04000000000002" rx="1.4800000000000002" ry="2.76" fill="#b7dcf3" opacity="0.55" filter="url(#blur1)" transform="rotate(2 1015.2 217.8)"/><ellipse cx="1014.9" cy="238.3" rx="3.8" ry="8.0" fill="url(#blob)"/><ellipse cx="1013.9499999999999" cy="235.9" rx="1.52" ry="2.4" fill="#b7dcf3" opacity="0.55" filter="url(#blur1)"/><ellipse cx="1034.4" cy="170.9" rx="6.4" ry="5.8" fill="url(#blob)" transform="rotate(25 1034.4 170.9)"/><ellipse cx="1032.8000000000002" cy="169.16" rx="2.5600000000000005" ry="1.74" fill="#b7dcf3" opacity="0.55" filter="url(#blur1)" transform="rotate(25 1034.4 170.9)"/><ellipse cx="1029.2" cy="180.8" rx="6.0" ry="6.8" fill="url(#blob)" transform="rotate(30 1029.2 180.8)"/><ellipse cx="1027.7" cy="178.76000000000002" rx="2.4000000000000004" ry="2.04" fill="#b7dcf3" opacity="0.55" filter="url(#blur1)" transform="rotate(30 1029.2 180.8)"/><ellipse cx="1025.6" cy="192.4" rx="5.2" ry="6.8" fill="url(#blob)" transform="rotate(12 1025.6 192.4)"/><ellipse cx="1024.3" cy="190.36" rx="2.08" ry="2.04" fill="#b7dcf3" opacity="0.55" filter="url(#blur1)" transform="rotate(12 1025.6 192.4)"/><ellipse cx="1025.2" cy="217.2" rx="3.7" ry="9.2" fill="url(#blob)" transform="rotate(-2 1025.2 217.2)"/><ellipse cx="1024.275" cy="214.44" rx="1.4800000000000002" ry="2.76" fill="#b7dcf3" opacity="0.55" filter="url(#blur1)" transform="rotate(-2 1025.2 217.2)"/><ellipse cx="1026.5" cy="238.3" rx="3.8" ry="8.0" fill="url(#blob)"/><ellipse cx="1025.55" cy="235.9" rx="1.52" ry="2.4" fill="#b7dcf3" opacity="0.55" filter="url(#blur1)"/></g></svg>
<div class="t" style="left:64px;top:94px">Cardiac<br>fibroblast</div>
<div class="t" style="left:223px;top:62px">Differentiation</div>
<div class="t g bd" style="left:394px;top:99px">Lymphangiogenic<br>interstitial cells</div>
<div class="t g" style="left:517px;top:13px">Myocardial<br>injection</div>
<div class="t" style="left:683px;top:122px">Recovered<br>cardiac function</div>
<div class="t" style="left:222px;top:206px">60%HFD + L-NAME</div>
<div class="t" style="left:63px;top:272px">Wild type<br>mouse</div>
<div class="t" style="left:393px;top:272px">HFpEF<br>model</div>
<div class="t r" style="left:547px;top:283px">Inhibition of<br>VEGF-C/VEGFR3</div>
<div class="t" style="left:691px;top:282px">Worsened<br>cardiac function</div>
<div class="t" style="left:151px;top:382px">60%HFD +<br>L-NAME</div>
<div class="t b bd l" style="left:185px;top:488px">Cardiac remodeling<br>and dysfunction</div>
<div class="t r" style="left:540px;top:384px">Inhibition of<br>VEGF-C/VEGFR3</div>
<div class="t" style="left:542px;top:439px">60%HFD<br>+ L-NAME</div>
<div class="t r bd l" style="left:608px;top:482px">Inflammation&nbsp;<svg class="ua" viewBox="0 0 8.7 14"><path d="M4.35,14 V1.2 M1.5,4.8 L4.35,0.8 L7.2,4.8" stroke="currentColor" fill="none" stroke-width="1.1"/></svg><svg class="ua" viewBox="0 0 8.7 14"><path d="M4.35,14 V1.2 M1.5,4.8 L4.35,0.8 L7.2,4.8" stroke="currentColor" fill="none" stroke-width="1.1"/></svg><br>Cardiac fibrosis&nbsp;<svg class="ua" viewBox="0 0 8.7 14"><path d="M4.35,14 V1.2 M1.5,4.8 L4.35,0.8 L7.2,4.8" stroke="currentColor" fill="none" stroke-width="1.1"/></svg><svg class="ua" viewBox="0 0 8.7 14"><path d="M4.35,14 V1.2 M1.5,4.8 L4.35,0.8 L7.2,4.8" stroke="currentColor" fill="none" stroke-width="1.1"/></svg><br>Hypertrophy&nbsp;<svg class="ua" viewBox="0 0 8.7 14"><path d="M4.35,14 V1.2 M1.5,4.8 L4.35,0.8 L7.2,4.8" stroke="currentColor" fill="none" stroke-width="1.1"/></svg><span style="display:inline-block;width:4.4px"></span><svg class="ua" viewBox="0 0 8.7 14"><path d="M4.35,14 V1.2 M1.5,4.8 L4.35,0.8 L7.2,4.8" stroke="currentColor" fill="none" stroke-width="1.1"/></svg></div>
<div class="t g bd" style="left:912px;top:48px">Lymphangiogenic<br>interstitial cells</div>
<div class="t l" style="left:1041px;top:115px">VEGF-C</div>
<div class="t l" style="left:1058px;top:169px">VEGFR3</div>
<div class="t" style="left:990px;top:315px;font-size:20.7px;line-height:24px;color:#fff">Lymphangiogenesis</div>
<div class="t" style="left:979px;top:437px">60%HFD + L-NAME</div>
<div class="t g2 bd l" style="left:1038px;top:481px">Inflammation&nbsp;<svg class="ua" viewBox="0 0 8.7 14"><path d="M4.35,0 V12.8 M1.5,9.2 L4.35,13.2 L7.2,9.2" stroke="currentColor" fill="none" stroke-width="1.05"/></svg><br>Cardiac fibrosis&nbsp;<svg class="ua" viewBox="0 0 8.7 14"><path d="M4.35,0 V12.8 M1.5,9.2 L4.35,13.2 L7.2,9.2" stroke="currentColor" fill="none" stroke-width="1.05"/></svg><br>Hypertrophy&nbsp;<svg class="ua" viewBox="0 0 8.7 14"><path d="M4.35,0 V12.8 M1.5,9.2 L4.35,13.2 L7.2,9.2" stroke="currentColor" fill="none" stroke-width="1.05"/></svg></div>
</body></html>
